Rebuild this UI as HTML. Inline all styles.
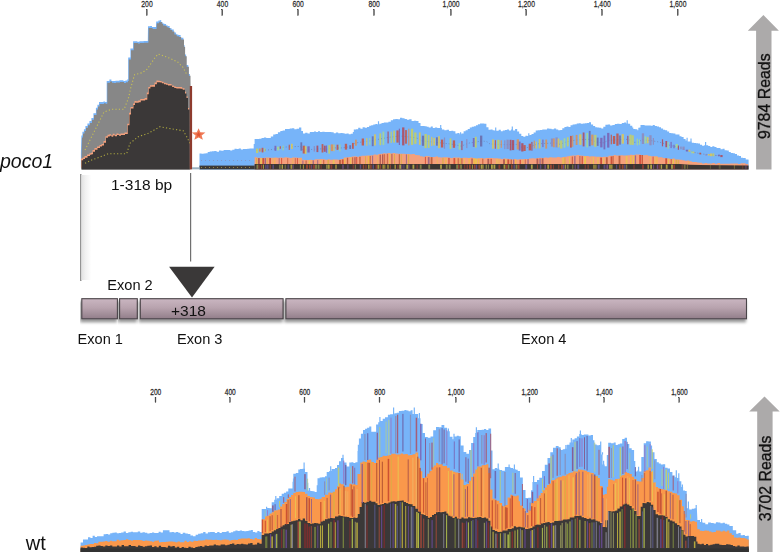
<!DOCTYPE html>
<html><head><meta charset="utf-8"><style>
html,body{margin:0;padding:0;background:#fff;width:780px;height:552px;overflow:hidden;font-family:"Liberation Sans",sans-serif;}
svg{display:block;}
</style></head><body>
<svg width="780" height="552" viewBox="0 0 780 552">
<defs><linearGradient id="ex" x1="0" y1="0" x2="0" y2="1"><stop offset="0" stop-color="#cab6c1"/><stop offset="0.45" stop-color="#b8a3ae"/><stop offset="1" stop-color="#927e8a"/></linearGradient><filter id="soft" x="0" y="0" width="100%" height="100%"><feGaussianBlur stdDeviation="0.45"/></filter><linearGradient id="shg" x1="0" y1="0" x2="1" y2="0"><stop offset="0" stop-color="#e2e2e2"/><stop offset="0.4" stop-color="#f1f1f1"/><stop offset="1" stop-color="#ffffff"/></linearGradient><filter id="sh" x="-5%" y="-30%" width="110%" height="180%"><feGaussianBlur in="SourceAlpha" stdDeviation="1.6"/><feOffset dx="-1" dy="2.5"/><feComponentTransfer><feFuncA type="linear" slope="0.42"/></feComponentTransfer><feMerge><feMergeNode/><feMergeNode in="SourceGraphic"/></feMerge></filter></defs>
<rect width="780" height="552" fill="#fff"/>
<g font-family="Liberation Sans, sans-serif" fill="#2a2a2a" stroke="#2a2a2a" stroke-width="0.25" text-anchor="middle">
<text x="147.10000000000002" y="7.1" font-size="9.6" transform="translate(146.8 0) scale(0.71 1) translate(-146.8 0)">200</text>
<rect x="146.25" y="9.4" width="1.1" height="6.2" fill="#555"/>
<text x="222.60000000000002" y="7.1" font-size="9.6" transform="translate(222.3 0) scale(0.71 1) translate(-222.3 0)">400</text>
<rect x="221.75" y="9.4" width="1.1" height="6.2" fill="#555"/>
<text x="298.3" y="7.1" font-size="9.6" transform="translate(298.0 0) scale(0.71 1) translate(-298.0 0)">600</text>
<rect x="297.45" y="9.4" width="1.1" height="6.2" fill="#555"/>
<text x="374.3" y="7.1" font-size="9.6" transform="translate(374.0 0) scale(0.71 1) translate(-374.0 0)">800</text>
<rect x="373.45" y="9.4" width="1.1" height="6.2" fill="#555"/>
<text x="451.2" y="7.1" font-size="9.6" transform="translate(450.9 0) scale(0.71 1) translate(-450.9 0)">1,000</text>
<rect x="450.34999999999997" y="9.4" width="1.1" height="6.2" fill="#555"/>
<text x="526.5" y="7.1" font-size="9.6" transform="translate(526.2 0) scale(0.71 1) translate(-526.2 0)">1,200</text>
<rect x="525.6500000000001" y="9.4" width="1.1" height="6.2" fill="#555"/>
<text x="602.3" y="7.1" font-size="9.6" transform="translate(602.0 0) scale(0.71 1) translate(-602.0 0)">1,400</text>
<rect x="601.45" y="9.4" width="1.1" height="6.2" fill="#555"/>
<text x="678.0" y="7.1" font-size="9.6" transform="translate(677.7 0) scale(0.71 1) translate(-677.7 0)">1,600</text>
<rect x="677.1500000000001" y="9.4" width="1.1" height="6.2" fill="#555"/>
<text x="155.8" y="394.6" font-size="8.7" transform="translate(155.5 0) scale(0.76 1) translate(-155.5 0)">200</text>
<rect x="155.0" y="397.5" width="1" height="5" fill="#555"/>
<text x="230.3" y="394.6" font-size="8.7" transform="translate(230.0 0) scale(0.76 1) translate(-230.0 0)">400</text>
<rect x="229.5" y="397.5" width="1" height="5" fill="#555"/>
<text x="304.8" y="394.6" font-size="8.7" transform="translate(304.5 0) scale(0.76 1) translate(-304.5 0)">600</text>
<rect x="304.0" y="397.5" width="1" height="5" fill="#555"/>
<text x="379.8" y="394.6" font-size="8.7" transform="translate(379.5 0) scale(0.76 1) translate(-379.5 0)">800</text>
<rect x="379.0" y="397.5" width="1" height="5" fill="#555"/>
<text x="456.2" y="394.6" font-size="8.7" transform="translate(455.9 0) scale(0.76 1) translate(-455.9 0)">1,000</text>
<rect x="455.4" y="397.5" width="1" height="5" fill="#555"/>
<text x="529.8" y="394.6" font-size="8.7" transform="translate(529.5 0) scale(0.76 1) translate(-529.5 0)">1,200</text>
<rect x="529.0" y="397.5" width="1" height="5" fill="#555"/>
<text x="604.4" y="394.6" font-size="8.7" transform="translate(604.1 0) scale(0.76 1) translate(-604.1 0)">1,400</text>
<rect x="603.6" y="397.5" width="1" height="5" fill="#555"/>
<text x="679.5" y="394.6" font-size="8.7" transform="translate(679.2 0) scale(0.76 1) translate(-679.2 0)">1,600</text>
<rect x="678.7" y="397.5" width="1" height="5" fill="#555"/>
</g>
<g filter="url(#soft)">
<polygon points="81.5,169.4 81.5,155.0 82.0,137.4 83.0,137.4 83.0,133.6 84.5,133.6 84.5,131.1 86.0,131.1 86.0,127.7 88.0,127.7 88.0,125.3 90.0,125.3 90.0,122.9 92.0,122.9 92.0,119.8 94.0,119.8 94.0,115.0 96.5,115.0 96.5,109.6 98.0,109.6 98.0,106.6 99.6,106.6 99.6,103.9 101.8,103.9 101.8,103.9 104.0,103.9 104.0,103.2 105.7,103.2 105.7,103.7 107.3,103.7 107.3,103.0 107.3,82.8 110.0,82.8 110.0,81.4 112.0,81.4 112.0,82.8 114.0,82.8 114.0,82.9 116.0,82.9 116.0,82.6 118.0,82.6 118.0,82.6 120.0,82.6 120.0,82.1 122.0,82.1 122.0,82.0 124.0,82.0 124.0,82.9 126.0,82.9 126.0,82.3 128.0,82.3 128.0,81.1 128.8,81.1 128.8,80.0 128.8,59.4 131.0,59.4 131.0,50.2 133.7,50.2 133.7,43.1 135.8,43.1 135.8,43.0 137.9,43.0 137.9,43.5 140.0,43.5 140.0,43.0 142.1,43.0 142.1,43.0 144.2,43.0 144.2,42.7 146.3,42.7 146.3,42.8 148.4,42.8 148.4,42.5 148.6,28.1 150.6,28.1 150.6,27.9 152.6,27.9 152.6,28.9 154.6,28.9 154.6,28.9 156.6,28.9 156.6,28.2 156.8,23.3 159.0,23.3 159.0,22.2 160.9,22.2 160.9,21.9 161.8,21.9 161.8,23.8 163.1,23.8 163.1,25.4 164.9,25.4 164.9,25.7 166.7,25.7 166.7,27.3 168.5,27.3 168.5,27.9 170.3,27.9 170.3,30.1 172.2,30.1 172.2,31.4 174.4,31.4 174.4,34.4 176.7,34.4 176.7,36.3 178.9,36.3 178.9,36.9 181.2,36.9 181.2,39.5 184.0,39.5 184.0,46.7 185.1,46.7 185.1,56.3 186.7,56.3 186.7,66.7 188.9,66.7 188.9,75.7 190.5,75.7 190.5,81.3 190.8,100.0 190.4,169.4" fill="#77b4f9" transform="translate(-0.6 -1.8)"/>
<polygon points="81.5,169.4 81.5,155.0 82.0,137.4 83.0,137.4 83.0,133.6 84.5,133.6 84.5,131.1 86.0,131.1 86.0,127.7 88.0,127.7 88.0,125.3 90.0,125.3 90.0,122.9 92.0,122.9 92.0,119.8 94.0,119.8 94.0,115.0 96.5,115.0 96.5,109.6 98.0,109.6 98.0,106.6 99.6,106.6 99.6,103.9 101.8,103.9 101.8,103.9 104.0,103.9 104.0,103.2 105.7,103.2 105.7,103.7 107.3,103.7 107.3,103.0 107.3,82.8 110.0,82.8 110.0,81.4 112.0,81.4 112.0,82.8 114.0,82.8 114.0,82.9 116.0,82.9 116.0,82.6 118.0,82.6 118.0,82.6 120.0,82.6 120.0,82.1 122.0,82.1 122.0,82.0 124.0,82.0 124.0,82.9 126.0,82.9 126.0,82.3 128.0,82.3 128.0,81.1 128.8,81.1 128.8,80.0 128.8,59.4 131.0,59.4 131.0,50.2 133.7,50.2 133.7,43.1 135.8,43.1 135.8,43.0 137.9,43.0 137.9,43.5 140.0,43.5 140.0,43.0 142.1,43.0 142.1,43.0 144.2,43.0 144.2,42.7 146.3,42.7 146.3,42.8 148.4,42.8 148.4,42.5 148.6,28.1 150.6,28.1 150.6,27.9 152.6,27.9 152.6,28.9 154.6,28.9 154.6,28.9 156.6,28.9 156.6,28.2 156.8,23.3 159.0,23.3 159.0,22.2 160.9,22.2 160.9,21.9 161.8,21.9 161.8,23.8 163.1,23.8 163.1,25.4 164.9,25.4 164.9,25.7 166.7,25.7 166.7,27.3 168.5,27.3 168.5,27.9 170.3,27.9 170.3,30.1 172.2,30.1 172.2,31.4 174.4,31.4 174.4,34.4 176.7,34.4 176.7,36.3 178.9,36.3 178.9,36.9 181.2,36.9 181.2,39.5 184.0,39.5 184.0,46.7 185.1,46.7 185.1,56.3 186.7,56.3 186.7,66.7 188.9,66.7 188.9,75.7 190.5,75.7 190.5,81.3 190.8,100.0 190.4,169.4" fill="#878787"/>
<polyline points="85.0,150.0 90.0,140.0 96.0,128.0 104.0,112.0 111.9,109.2 124.2,109.2 128.8,97.0 130.4,89.2 134.6,74.6 141.8,72.8 147.2,69.2 150.8,63.8 154.4,58.5 158.0,54.0 163.4,55.8 170.5,58.5 177.7,62.0 183.0,67.4 187.0,75.0" fill="none" stroke="#d8d044" stroke-width="1.1" stroke-dasharray="1.2 2.2" opacity="0.8"/>
<polygon points="81.5,169.4 81.5,160.2 83.2,160.2 83.2,159.0 85.0,159.0 85.0,157.7 87.5,157.7 87.5,156.0 90.0,156.0 90.0,154.8 91.5,154.8 91.5,154.3 93.0,154.3 93.0,151.7 95.0,151.7 95.0,149.7 97.5,149.7 97.5,148.0 100.0,148.0 100.0,146.6 102.0,146.6 102.0,145.6 104.0,145.6 104.0,142.7 106.0,142.7 106.0,137.8 108.0,137.8 108.0,136.4 109.8,136.4 109.8,135.8 111.5,135.8 111.5,136.8 113.2,136.8 113.2,135.4 115.0,135.4 115.0,136.3 117.0,136.3 117.0,135.1 119.0,135.1 119.0,135.8 121.0,135.8 121.0,135.1 123.0,135.1 123.0,135.0 125.0,135.0 125.0,134.0 127.8,134.0 127.8,125.3 129.5,125.3 129.5,114.4 131.0,114.4 131.0,108.6 133.5,108.6 133.5,105.1 135.0,105.1 135.0,102.7 136.5,102.7 136.5,102.8 138.7,102.8 138.7,102.2 140.8,102.2 140.8,100.6 143.0,100.6 143.0,100.6 145.1,100.6 145.1,99.7 147.3,99.7 147.3,94.2 148.8,94.2 148.8,88.5 150.4,88.5 150.4,86.8 152.7,86.8 152.7,86.7 155.0,86.7 155.0,84.2 156.9,84.2 156.9,82.2 158.8,82.2 158.8,82.3 160.4,82.3 160.4,82.5 162.0,82.5 162.0,83.3 164.0,83.3 164.0,84.3 166.0,84.3 166.0,84.8 168.0,84.8 168.0,85.5 170.0,85.5 170.0,85.6 172.1,85.6 172.1,87.1 174.2,87.1 174.2,88.0 176.3,88.0 176.3,88.5 178.5,88.5 178.5,88.6 180.6,88.6 180.6,88.7 182.7,88.7 182.7,89.8 185.0,89.8 185.0,93.4 186.5,93.4 186.5,97.9 188.0,97.9 188.0,109.5 189.6,109.5 189.6,120.0 189.8,169.4" fill="#f5a07c" transform="translate(-0.5 -1.6)"/>
<polygon points="81.5,169.4 81.5,160.2 83.2,160.2 83.2,159.0 85.0,159.0 85.0,157.7 87.5,157.7 87.5,156.0 90.0,156.0 90.0,154.8 91.5,154.8 91.5,154.3 93.0,154.3 93.0,151.7 95.0,151.7 95.0,149.7 97.5,149.7 97.5,148.0 100.0,148.0 100.0,146.6 102.0,146.6 102.0,145.6 104.0,145.6 104.0,142.7 106.0,142.7 106.0,137.8 108.0,137.8 108.0,136.4 109.8,136.4 109.8,135.8 111.5,135.8 111.5,136.8 113.2,136.8 113.2,135.4 115.0,135.4 115.0,136.3 117.0,136.3 117.0,135.1 119.0,135.1 119.0,135.8 121.0,135.8 121.0,135.1 123.0,135.1 123.0,135.0 125.0,135.0 125.0,134.0 127.8,134.0 127.8,125.3 129.5,125.3 129.5,114.4 131.0,114.4 131.0,108.6 133.5,108.6 133.5,105.1 135.0,105.1 135.0,102.7 136.5,102.7 136.5,102.8 138.7,102.8 138.7,102.2 140.8,102.2 140.8,100.6 143.0,100.6 143.0,100.6 145.1,100.6 145.1,99.7 147.3,99.7 147.3,94.2 148.8,94.2 148.8,88.5 150.4,88.5 150.4,86.8 152.7,86.8 152.7,86.7 155.0,86.7 155.0,84.2 156.9,84.2 156.9,82.2 158.8,82.2 158.8,82.3 160.4,82.3 160.4,82.5 162.0,82.5 162.0,83.3 164.0,83.3 164.0,84.3 166.0,84.3 166.0,84.8 168.0,84.8 168.0,85.5 170.0,85.5 170.0,85.6 172.1,85.6 172.1,87.1 174.2,87.1 174.2,88.0 176.3,88.0 176.3,88.5 178.5,88.5 178.5,88.6 180.6,88.6 180.6,88.7 182.7,88.7 182.7,89.8 185.0,89.8 185.0,93.4 186.5,93.4 186.5,97.9 188.0,97.9 188.0,109.5 189.6,109.5 189.6,120.0 189.8,169.4" fill="#3b3939"/>
<polyline points="85.0,163.3 91.7,160.0 100.0,157.0 108.3,153.7 126.7,153.7 130.0,143.3 138.3,136.7 148.3,133.3 160.0,126.7 168.3,128.3 183.3,130.8 186.7,136.7 190.0,143.3" fill="none" stroke="#c8c040" stroke-width="1.1" stroke-dasharray="1.2 2.2" opacity="0.8"/>
<rect x="189.8" y="86" width="2.3" height="83.4" fill="#8e3a2e"/>
<polygon points="199.5,169.4 199.5,153.4 201.5,153.4 201.5,153.8 203.6,153.8 203.6,153.4 205.6,153.4 205.6,153.3 207.7,153.3 207.7,151.9 209.7,151.9 209.7,151.6 212.0,151.6 212.0,151.2 214.3,151.2 214.3,151.1 216.6,151.1 216.6,151.7 219.0,151.7 219.0,150.5 221.3,150.5 221.3,150.8 223.6,150.8 223.6,150.1 225.9,150.1 225.9,150.0 228.0,150.0 228.0,150.0 230.2,150.0 230.2,150.4 232.3,150.4 232.3,149.8 234.5,149.8 234.5,148.7 236.6,148.7 236.6,148.9 238.7,148.9 238.7,148.5 240.9,148.5 240.9,149.4 243.0,149.4 243.0,149.1 245.1,149.1 245.1,148.9 247.3,148.9 247.3,148.7 249.4,148.7 249.4,148.4 251.6,148.4 251.6,148.5 253.7,148.5 253.7,144.1 254.6,144.1 254.6,139.0 256.9,139.0 256.9,139.0 259.2,139.0 259.2,138.8 261.5,138.8 261.5,138.1 263.9,138.1 263.9,137.6 266.2,137.6 266.2,138.1 268.5,138.1 268.5,138.0 270.8,138.0 270.8,136.5 273.2,136.5 273.2,134.6 275.5,134.6 275.5,133.9 277.9,133.9 277.9,132.3 280.3,132.3 280.3,131.1 282.6,131.1 282.6,130.5 285.0,130.5 285.0,129.0 287.3,129.0 287.3,128.9 289.7,128.9 289.7,128.6 292.0,128.6 292.0,128.2 294.3,128.2 294.3,129.3 296.6,129.3 296.6,128.7 299.0,128.7 299.0,127.4 301.3,127.4 301.3,131.1 303.0,131.1 303.0,133.4 305.2,133.4 305.2,132.8 307.5,132.8 307.5,133.4 309.8,133.4 309.8,132.0 312.0,132.0 312.0,132.1 314.0,132.1 314.0,131.6 316.0,131.6 316.0,132.1 318.0,132.1 318.0,131.3 320.0,131.3 320.0,131.9 322.3,131.9 322.3,131.8 324.6,131.8 324.6,132.0 326.8,132.0 326.8,131.9 329.1,131.9 329.1,132.1 331.4,132.1 331.4,132.2 333.7,132.2 333.7,133.2 335.9,133.2 335.9,132.6 338.2,132.6 338.2,133.3 340.5,133.3 340.5,133.0 342.6,133.0 342.6,133.3 344.6,133.3 344.6,133.7 346.6,133.7 346.6,133.6 348.7,133.6 348.7,134.2 350.8,134.2 350.8,133.8 352.8,133.8 352.8,132.1 353.8,132.1 353.8,129.4 356.0,129.4 356.0,129.2 358.2,129.2 358.2,127.7 360.4,127.7 360.4,128.7 362.6,128.7 362.6,127.2 364.8,127.2 364.8,127.7 367.0,127.7 367.0,126.9 369.2,126.9 369.2,125.8 371.2,125.8 371.2,125.3 373.3,125.3 373.3,124.5 375.4,124.5 375.4,124.1 377.4,124.1 377.4,124.4 377.9,124.4 377.9,121.2 379.1,121.2 379.1,124.4 379.4,124.4 379.4,123.7 381.5,123.7 381.5,122.9 383.8,122.9 383.8,122.4 386.1,122.4 386.1,122.5 388.4,122.5 388.4,121.7 390.8,121.7 390.8,120.3 393.1,120.3 393.1,119.2 395.4,119.2 395.4,119.1 397.7,119.1 397.7,119.2 400.0,119.2 400.0,117.8 402.3,117.8 402.3,118.3 404.6,118.3 404.6,119.0 406.9,119.0 406.9,119.7 409.2,119.7 409.2,119.3 411.6,119.3 411.6,121.0 413.9,121.0 413.9,120.8 416.2,120.8 416.2,121.0 418.5,121.0 418.5,123.0 420.5,123.0 420.5,125.9 422.6,125.9 422.6,126.0 424.6,126.0 424.6,126.2 426.7,126.2 426.7,126.7 428.7,126.7 428.7,127.5 430.8,127.5 430.8,126.6 432.8,126.6 432.8,127.9 434.9,127.9 434.9,127.5 437.2,127.5 437.2,127.9 439.6,127.9 439.6,128.0 440.1,128.0 440.1,124.9 441.3,124.9 441.3,128.0 441.9,128.0 441.9,129.4 444.3,129.4 444.3,130.3 446.6,130.3 446.6,129.8 449.0,129.8 449.0,130.9 451.3,130.9 451.3,130.7 453.3,130.7 453.3,131.2 455.4,131.2 455.4,133.4 457.4,133.4 457.4,133.1 459.5,133.1 459.5,134.2 460.0,134.2 460.0,132.2 461.2,132.2 461.2,134.2 461.5,134.2 461.5,133.4 463.6,133.4 463.6,131.2 465.6,131.2 465.6,130.2 467.7,130.2 467.7,129.0 469.8,129.0 469.8,127.5 471.8,127.5 471.8,126.8 473.9,126.8 473.9,126.3 475.9,126.3 475.9,125.3 477.9,125.3 477.9,124.3 480.0,124.3 480.0,123.6 482.1,123.6 482.1,123.5 484.3,123.5 484.3,123.8 486.4,123.8 486.4,127.2 488.5,127.2 488.5,129.7 490.5,129.7 490.5,129.4 492.6,129.4 492.6,130.2 494.6,130.2 494.6,130.8 495.1,130.8 495.1,127.5 496.3,127.5 496.3,130.8 496.7,130.8 496.7,130.8 498.7,130.8 498.7,129.7 500.8,129.7 500.8,131.2 502.8,131.2 502.8,130.5 504.9,130.5 504.9,130.0 506.9,130.0 506.9,129.5 509.0,129.5 509.0,130.5 511.0,130.5 511.0,129.5 511.7,129.5 511.7,126.5 512.9,126.5 512.9,129.5 513.1,129.5 513.1,130.5 515.1,130.5 515.1,129.0 517.2,129.0 517.2,131.5 519.2,131.5 519.2,133.7 521.3,133.7 521.3,136.0 523.3,136.0 523.3,136.8 525.4,136.8 525.4,135.7 527.4,135.7 527.4,136.1 528.2,136.1 528.2,133.2 529.4,133.2 529.4,136.1 529.5,136.1 529.5,135.0 531.5,135.0 531.5,134.1 533.6,134.1 533.6,132.4 535.7,132.4 535.7,130.5 537.7,130.5 537.7,130.2 540.0,130.2 540.0,130.1 542.3,130.1 542.3,129.6 544.6,129.6 544.6,129.5 547.0,129.5 547.0,128.4 549.3,128.4 549.3,128.8 551.6,128.8 551.6,129.2 553.9,129.2 553.9,128.6 556.2,128.6 556.2,129.5 558.2,129.5 558.2,130.3 560.3,130.3 560.3,130.1 562.3,130.1 562.3,128.3 564.4,128.3 564.4,126.9 566.5,126.9 566.5,126.5 568.5,126.5 568.5,127.1 570.5,127.1 570.5,125.2 572.6,125.2 572.6,124.6 574.7,124.6 574.7,124.3 576.7,124.3 576.7,123.6 578.8,123.6 578.8,123.3 580.8,123.3 580.8,123.7 582.9,123.7 582.9,123.5 584.9,123.5 584.9,123.2 587.0,123.2 587.0,123.1 589.0,123.1 589.0,122.3 591.0,122.3 591.0,124.4 593.1,124.4 593.1,126.1 595.2,126.1 595.2,127.3 597.2,127.3 597.2,127.6 599.2,127.6 599.2,127.8 601.3,127.8 601.3,128.5 603.3,128.5 603.3,126.7 605.4,126.7 605.4,124.7 607.7,124.7 607.7,124.5 610.1,124.5 610.1,125.5 612.4,125.5 612.4,125.0 614.8,125.0 614.8,123.9 617.1,123.9 617.1,123.8 619.5,123.8 619.5,124.0 621.8,124.0 621.8,122.9 624.1,122.9 624.1,122.5 626.1,122.5 626.1,123.5 626.6,123.5 626.6,120.2 627.8,120.2 627.8,123.5 628.2,123.5 628.2,123.8 630.2,123.8 630.2,125.7 632.3,125.7 632.3,127.5 633.3,127.5 633.3,128.9 635.4,128.9 635.4,129.3 637.4,129.3 637.4,130.3 638.3,130.3 638.3,127.8 639.5,127.8 639.5,130.3 639.5,130.3 639.5,127.5 640.5,127.5 640.5,125.1 642.5,125.1 642.5,125.1 644.6,125.1 644.6,125.5 646.6,125.5 646.6,125.6 648.7,125.6 648.7,125.4 650.8,125.4 650.8,125.7 652.8,125.7 652.8,125.1 654.8,125.1 654.8,126.1 656.9,126.1 656.9,126.6 659.0,126.6 659.0,127.3 661.0,127.3 661.0,128.4 663.1,128.4 663.1,129.7 665.1,129.7 665.1,130.3 667.2,130.3 667.2,131.6 669.2,131.6 669.2,132.9 671.3,132.9 671.3,133.2 673.3,133.2 673.3,133.4 675.4,133.4 675.4,134.5 677.5,134.5 677.5,134.5 679.5,134.5 679.5,136.3 681.5,136.3 681.5,137.1 683.6,137.1 683.6,138.9 685.6,138.9 685.6,140.4 686.5,140.4 686.5,137.8 687.7,137.8 687.7,140.4 687.7,140.4 687.7,141.4 689.7,141.4 689.7,141.6 690.4,141.6 690.4,138.5 691.6,138.5 691.6,141.6 691.8,141.6 691.8,142.8 693.9,142.8 693.9,142.9 695.9,142.9 695.9,143.2 698.0,143.2 698.0,143.6 700.0,143.6 700.0,144.8 702.1,144.8 702.1,145.7 704.1,145.7 704.1,145.3 705.0,145.3 705.0,142.1 706.2,142.1 706.2,145.3 706.2,145.3 706.2,145.3 708.2,145.3 708.2,145.9 710.3,145.9 710.3,147.0 712.3,147.0 712.3,146.2 714.4,146.2 714.4,147.0 716.5,147.0 716.5,147.9 718.5,147.9 718.5,147.9 720.5,147.9 720.5,149.3 722.6,149.3 722.6,148.8 724.6,148.8 724.6,150.3 726.7,150.3 726.7,150.6 728.8,150.6 728.8,151.9 730.8,151.9 730.8,153.0 732.9,153.0 732.9,153.2 734.9,153.2 734.9,153.9 737.0,153.9 737.0,155.4 739.0,155.4 739.0,156.1 741.0,156.1 741.0,157.8 743.1,157.8 743.1,158.1 745.7,158.1 745.7,159.6 748.2,159.6 748.2,159.5 748.6,159.8 748.6,169.4" fill="#77b4f9"/>
<polygon points="254.6,157.3 257.1,157.3 257.1,157.8 259.6,157.8 259.6,157.7 262.1,157.7 262.1,158.0 264.6,158.0 264.6,157.4 267.1,157.4 267.1,157.4 269.6,157.4 269.6,157.8 272.1,157.8 272.1,157.7 274.6,157.7 274.6,157.4 277.1,157.4 277.1,157.7 279.5,157.7 279.5,157.5 282.0,157.5 282.0,157.8 284.5,157.8 284.5,157.3 287.0,157.3 287.0,157.4 289.5,157.4 289.5,157.9 292.0,157.9 292.0,157.5 294.5,157.5 294.5,157.4 297.0,157.4 297.0,157.8 299.5,157.8 299.5,157.7 302.0,157.7 302.0,157.6 302.0,159.7 304.5,159.7 304.5,160.0 306.9,160.0 306.9,160.1 309.4,160.1 309.4,159.7 312.0,159.7 312.0,159.9 314.7,159.9 314.7,159.3 317.4,159.3 317.4,159.3 320.0,159.3 320.0,159.1 322.6,159.1 322.6,159.2 325.1,159.2 325.1,159.8 327.7,159.8 327.7,159.3 330.2,159.3 330.2,159.8 332.8,159.8 332.8,159.4 335.4,159.4 335.4,159.5 337.9,159.5 337.9,159.7 340.5,159.7 340.5,159.0 343.6,159.0 343.6,157.5 346.7,157.5 346.7,157.3 349.2,157.3 349.2,157.1 351.6,157.1 351.6,156.5 354.1,156.5 354.1,156.3 356.5,156.3 356.5,156.7 359.0,156.7 359.0,156.2 361.5,156.2 361.5,155.8 363.9,155.8 363.9,155.8 366.4,155.8 366.4,155.4 368.8,155.4 368.8,155.6 371.3,155.6 371.3,155.2 373.6,155.2 373.6,154.5 376.0,154.5 376.0,154.8 378.3,154.8 378.3,153.9 380.7,153.9 380.7,153.8 383.0,153.8 383.0,153.3 385.4,153.3 385.4,153.5 387.7,153.5 387.7,152.9 390.2,152.9 390.2,153.4 392.6,153.4 392.6,153.1 395.1,153.1 395.1,153.5 397.5,153.5 397.5,153.8 400.0,153.8 400.0,153.8 402.5,153.8 402.5,153.8 404.9,153.8 404.9,153.9 407.4,153.9 407.4,154.0 409.8,154.0 409.8,154.2 412.3,154.2 412.3,154.1 414.9,154.1 414.9,155.0 417.5,155.0 417.5,155.3 420.0,155.3 420.0,156.3 422.6,156.3 422.6,156.7 425.2,156.7 425.2,156.1 427.7,156.1 427.7,156.3 430.2,156.3 430.2,156.9 432.8,156.9 432.8,156.9 435.4,156.9 435.4,156.6 437.9,156.6 437.9,157.3 440.4,157.3 440.4,157.6 443.0,157.6 443.0,157.3 445.5,157.3 445.5,157.3 447.9,157.3 447.9,157.5 450.4,157.5 450.4,157.9 452.8,157.9 452.8,157.4 455.3,157.4 455.3,157.5 457.7,157.5 457.7,157.5 460.2,157.5 460.2,157.9 462.6,157.9 462.6,157.8 465.1,157.8 465.1,157.7 467.5,157.7 467.5,157.9 470.0,157.9 470.0,157.6 472.6,157.6 472.6,157.9 475.1,157.9 475.1,158.5 477.7,158.5 477.7,158.2 480.2,158.2 480.2,158.0 482.8,158.0 482.8,158.6 485.4,158.6 485.4,158.1 487.9,158.1 487.9,158.1 490.5,158.1 490.5,158.0 493.1,158.0 493.1,158.2 495.6,158.2 495.6,158.3 498.2,158.3 498.2,158.4 500.8,158.4 500.8,159.0 503.3,159.0 503.3,158.6 505.9,158.6 505.9,158.7 508.5,158.7 508.5,159.1 511.0,159.1 511.0,159.4 513.6,159.4 513.6,159.0 516.2,159.0 516.2,159.5 518.7,159.5 518.7,159.2 521.3,159.2 521.3,159.3 523.8,159.3 523.8,159.1 526.4,159.1 526.4,159.1 529.0,159.1 529.0,158.6 531.5,158.6 531.5,158.2 534.1,158.2 534.1,158.4 536.6,158.4 536.6,157.9 539.2,157.9 539.2,157.8 541.8,157.8 541.8,158.1 544.3,158.1 544.3,157.6 546.9,157.6 546.9,157.7 549.4,157.7 549.4,157.2 552.0,157.2 552.0,157.6 554.6,157.6 554.6,157.4 557.1,157.4 557.1,157.1 559.7,157.1 559.7,157.6 562.3,157.6 562.3,157.1 564.7,157.1 564.7,156.7 567.1,156.7 567.1,156.3 569.5,156.3 569.5,155.8 571.9,155.8 571.9,155.6 574.3,155.6 574.3,155.6 576.7,155.6 576.7,155.1 579.1,155.1 579.1,155.4 581.5,155.4 581.5,155.7 584.0,155.7 584.0,156.0 586.4,156.0 586.4,156.0 588.8,156.0 588.8,156.5 591.2,156.5 591.2,156.3 593.6,156.3 593.6,156.6 596.0,156.6 596.0,156.8 598.5,156.8 598.5,156.7 600.9,156.7 600.9,157.0 603.3,157.0 603.3,156.8 605.9,156.8 605.9,156.7 608.5,156.7 608.5,155.8 611.0,155.8 611.0,155.7 613.6,155.7 613.6,155.1 615.9,155.1 615.9,155.4 618.3,155.4 618.3,155.4 620.6,155.4 620.6,155.2 623.0,155.2 623.0,155.6 625.3,155.6 625.3,155.4 627.7,155.4 627.7,155.3 630.0,155.3 630.0,154.8 632.6,154.8 632.6,154.9 635.2,154.9 635.2,154.6 637.9,154.6 637.9,154.5 640.5,154.5 640.5,154.9 643.0,154.9 643.0,155.2 645.4,155.2 645.4,154.9 647.9,154.9 647.9,155.7 650.3,155.7 650.3,156.3 652.8,156.3 652.8,156.3 655.3,156.3 655.3,156.3 657.7,156.3 657.7,157.2 660.2,157.2 660.2,157.2 662.6,157.2 662.6,158.0 665.1,158.0 665.1,158.3 667.6,158.3 667.6,158.6 670.0,158.6 670.0,159.0 672.5,159.0 672.5,158.6 674.9,158.6 674.9,159.6 677.4,159.6 677.4,159.5 679.8,159.5 679.8,159.7 682.2,159.7 682.2,160.2 684.6,160.2 684.6,160.7 687.0,160.7 687.0,160.6 689.4,160.6 689.4,161.3 691.8,161.3 691.8,161.9 694.3,161.9 694.3,162.1 696.9,162.1 696.9,162.6 699.5,162.6 699.5,162.8 702.0,162.8 702.0,163.6 704.6,163.6 704.6,163.0 707.1,163.0 707.1,163.4 709.7,163.4 709.7,163.4 712.3,163.4 712.3,162.9 714.8,162.9 714.8,163.7 717.4,163.7 717.4,163.1 720.0,163.1 720.0,163.8 722.5,163.8 722.5,163.7 725.1,163.7 725.1,163.7 727.7,163.7 727.7,163.7 730.2,163.7 730.2,163.4 732.8,163.4 732.8,163.4 735.4,163.4 735.4,163.4 737.9,163.4 737.9,163.9 740.5,163.9 740.5,163.2 743.1,163.2 743.1,163.3 745.6,163.3 745.6,164.0 748.2,164.0 748.2,163.6 748.2,169.4 254.6,169.4" fill="#f5a07c"/>
<rect x="199.5" y="165.6" width="55.2" height="3.8" fill="#3b3939"/>
<polygon points="254.6,164 680,164 690,164.8 748.6,165.4 748.6,169.4 254.6,169.4" fill="#3e3533"/>
<rect x="192" y="167.3" width="7.5" height="2" fill="#9ab0c0"/>
<polyline points="256.0,150.7 259.0,150.5 261.6,150.3 264.2,150.2 266.3,150.0 268.9,149.9 272.2,149.5 274.5,149.0 277.0,148.6 279.7,148.0 282.5,147.5 285.9,147.0 288.7,146.9 291.0,146.8 294.1,146.6 297.7,146.5 300.4,146.4 302.7,149.4 304.7,149.8 307.4,149.7 310.3,149.5 313.7,149.3 316.5,149.1 319.5,148.9 321.6,148.9 323.9,149.0 325.9,149.1 328.3,149.2 330.8,147.7 333.4,147.8 336.6,147.9 339.3,148.0 342.0,147.9 344.8,147.4 346.9,147.1 349.3,147.1 352.0,145.8 355.0,143.0 358.1,142.6 361.7,142.0 364.0,141.7 366.2,141.4 369.3,141.0 371.8,140.6 374.1,140.1 376.7,139.6 379.4,139.1 382.5,138.5 384.9,138.1 387.5,137.5 390.6,137.1 393.2,136.8 396.4,136.4 398.8,136.1 402.1,136.2 405.1,136.5 408.2,136.9 410.9,137.1 414.2,137.6 416.6,138.1 418.9,138.9 421.9,140.9 424.5,141.2 427.8,141.6 431.2,141.9 433.3,142.1 436.0,142.4 438.1,142.6 440.9,142.9 443.9,143.3 447.1,143.6 449.6,143.9 452.8,144.4 456.2,145.1 458.6,145.6 461.3,146.2 464.0,145.0 466.2,144.0 469.5,143.0 472.8,142.5 474.9,142.1 476.9,141.8 480.0,141.3 483.4,141.1 487.0,141.7 490.0,144.0 492.1,144.1 494.8,144.2 497.2,144.4 500.7,144.6 504.2,144.6 506.5,144.6 509.7,144.6 511.9,144.5 514.0,144.5 516.7,144.4 518.8,145.4 521.2,146.9 523.4,148.0 526.5,147.6 528.7,147.3 531.3,146.4 533.7,145.4 535.8,144.6 538.7,143.7 542.3,143.6 545.3,143.4 548.0,143.3 550.9,143.1 553.0,143.0 555.5,143.0 557.6,143.5 560.1,144.4 563.6,142.8 566.9,141.8 570.0,141.2 572.1,140.8 575.7,140.1 579.2,139.8 582.7,139.6 586.3,139.4 588.8,139.3 591.2,140.1 594.2,141.2 596.8,142.1 600.2,142.6 603.5,142.8 607.1,140.9 610.7,140.4 612.9,140.0 616.3,139.7 619.1,139.6 621.6,139.4 624.9,139.1 627.2,139.5 629.3,139.9 631.5,140.2 633.9,142.3 636.7,142.2 638.9,142.1 641.8,139.6 644.5,139.9 646.8,140.2 649.3,140.5 652.8,140.9 656.0,141.5 658.3,141.9 661.9,142.8 665.4,143.9 667.5,144.5 670.5,145.5 673.4,146.2 675.6,146.7 677.8,147.3 680.4,147.9 682.4,148.3 685.9,150.4 688.5,151.0 691.1,151.6 693.1,152.1 696.4,152.9 699.3,153.5 702.5,154.0 705.3,154.3 707.9,154.5 710.0,154.7 712.5,155.0 715.4,155.4 718.1,155.7 720.3,156.0" fill="none" stroke="#6a5a7a" stroke-width="0.8" stroke-dasharray="1 2" opacity="0.6"/>
<line x1="201" y1="160.5" x2="253" y2="160.5" stroke="#8a8ab0" stroke-width="0.9" stroke-dasharray="1 3" opacity="0.7"/>
<line x1="201" y1="167.5" x2="253" y2="167.5" stroke="#c8b050" stroke-width="0.9" stroke-dasharray="1 3" opacity="0.7"/>
<rect x="256.0" y="148.6" width="2.3" height="4.5" fill="#c8d060" opacity="0.85"/>
<rect x="259.0" y="148.5" width="1.8" height="3.2" fill="#e09050" opacity="0.85"/>
<rect x="261.6" y="147.8" width="1.8" height="4.6" fill="#c85040" opacity="0.85"/>
<rect x="264.2" y="148.4" width="1.2" height="3.3" fill="#c8d060" opacity="0.85"/>
<rect x="274.5" y="145.8" width="1.8" height="5.0" fill="#7a5fb0" opacity="0.85"/>
<rect x="277.0" y="146.7" width="2.3" height="3.7" fill="#a8d890" opacity="0.85"/>
<rect x="279.7" y="146.2" width="1.2" height="2.5" fill="#c85040" opacity="0.85"/>
<rect x="282.5" y="145.6" width="1.2" height="4.8" fill="#a8d890" opacity="0.85"/>
<rect x="288.7" y="144.7" width="1.2" height="5.2" fill="#c85040" opacity="0.85"/>
<rect x="291.0" y="143.8" width="1.8" height="5.1" fill="#e0c850" opacity="0.85"/>
<rect x="300.4" y="142.3" width="1.8" height="8.4" fill="#6a6aa8" opacity="0.85"/>
<rect x="302.7" y="145.7" width="2.3" height="7.8" fill="#c85040" opacity="0.85"/>
<rect x="304.7" y="146.2" width="1.8" height="7.7" fill="#e0c850" opacity="0.85"/>
<rect x="307.4" y="146.3" width="2.3" height="6.2" fill="#7a5fb0" opacity="0.85"/>
<rect x="313.7" y="146.1" width="1.2" height="5.5" fill="#9088b8" opacity="0.85"/>
<rect x="316.5" y="145.6" width="1.8" height="6.5" fill="#b04858" opacity="0.85"/>
<rect x="321.6" y="144.1" width="1.8" height="8.4" fill="#c85040" opacity="0.85"/>
<rect x="323.9" y="145.7" width="1.8" height="6.1" fill="#b04858" opacity="0.85"/>
<rect x="325.9" y="145.5" width="1.2" height="7.2" fill="#7a5fb0" opacity="0.85"/>
<rect x="328.3" y="145.1" width="1.8" height="8.6" fill="#c8d060" opacity="0.85"/>
<rect x="330.8" y="144.4" width="2.3" height="6.7" fill="#e09050" opacity="0.85"/>
<rect x="333.4" y="144.5" width="1.2" height="6.7" fill="#e0c850" opacity="0.85"/>
<rect x="336.6" y="144.7" width="1.8" height="5.2" fill="#c85040" opacity="0.85"/>
<rect x="339.3" y="144.5" width="1.2" height="7.0" fill="#a8d890" opacity="0.85"/>
<rect x="344.8" y="143.8" width="2.3" height="5.8" fill="#c85040" opacity="0.85"/>
<rect x="349.3" y="145.2" width="1.8" height="3.8" fill="#6a6aa8" opacity="0.85"/>
<rect x="352.0" y="142.9" width="1.8" height="5.9" fill="#c85040" opacity="0.85"/>
<rect x="355.0" y="139.7" width="1.8" height="6.0" fill="#e09050" opacity="0.85"/>
<rect x="361.7" y="138.5" width="2.3" height="7.0" fill="#c85040" opacity="0.85"/>
<rect x="366.2" y="138.0" width="1.2" height="7.8" fill="#e0c850" opacity="0.85"/>
<rect x="369.3" y="137.9" width="1.2" height="7.0" fill="#a8d890" opacity="0.85"/>
<rect x="371.8" y="136.3" width="1.8" height="9.9" fill="#6a6aa8" opacity="0.85"/>
<rect x="374.1" y="134.3" width="1.8" height="11.2" fill="#e0c850" opacity="0.85"/>
<rect x="379.4" y="133.4" width="1.8" height="11.8" fill="#c8d060" opacity="0.85"/>
<rect x="382.5" y="131.6" width="1.8" height="13.3" fill="#a8d890" opacity="0.85"/>
<rect x="387.5" y="131.5" width="1.2" height="11.9" fill="#b04858" opacity="0.85"/>
<rect x="390.6" y="131.6" width="1.2" height="11.4" fill="#c8d060" opacity="0.85"/>
<rect x="393.2" y="130.6" width="1.8" height="12.0" fill="#c8d060" opacity="0.85"/>
<rect x="396.4" y="130.4" width="2.3" height="12.2" fill="#c85040" opacity="0.85"/>
<rect x="398.8" y="128.7" width="1.2" height="16.3" fill="#7a5fb0" opacity="0.85"/>
<rect x="402.1" y="127.4" width="2.3" height="18.0" fill="#b04858" opacity="0.85"/>
<rect x="405.1" y="130.1" width="1.8" height="13.6" fill="#c85040" opacity="0.85"/>
<rect x="408.2" y="128.7" width="1.2" height="16.7" fill="#e09050" opacity="0.85"/>
<rect x="410.9" y="128.7" width="2.3" height="16.2" fill="#c8d060" opacity="0.85"/>
<rect x="414.2" y="132.5" width="2.3" height="11.4" fill="#c8d060" opacity="0.85"/>
<rect x="418.9" y="132.4" width="1.8" height="12.5" fill="#e0c850" opacity="0.85"/>
<rect x="421.9" y="135.7" width="2.3" height="10.1" fill="#6a6aa8" opacity="0.85"/>
<rect x="424.5" y="134.0" width="2.3" height="14.1" fill="#c8d060" opacity="0.85"/>
<rect x="427.8" y="135.0" width="1.8" height="12.9" fill="#c8d060" opacity="0.85"/>
<rect x="431.2" y="136.8" width="1.2" height="9.2" fill="#e0c850" opacity="0.85"/>
<rect x="433.3" y="137.9" width="1.8" height="7.5" fill="#e0c850" opacity="0.85"/>
<rect x="436.0" y="137.3" width="1.8" height="8.4" fill="#6a6aa8" opacity="0.85"/>
<rect x="438.1" y="136.2" width="1.8" height="12.0" fill="#e0c850" opacity="0.85"/>
<rect x="440.9" y="139.6" width="2.3" height="7.9" fill="#c85040" opacity="0.85"/>
<rect x="443.9" y="137.5" width="1.2" height="11.2" fill="#9088b8" opacity="0.85"/>
<rect x="449.6" y="138.4" width="1.8" height="10.5" fill="#c8d060" opacity="0.85"/>
<rect x="452.8" y="140.4" width="2.3" height="7.4" fill="#c85040" opacity="0.85"/>
<rect x="458.6" y="143.2" width="1.8" height="6.5" fill="#a8d890" opacity="0.85"/>
<rect x="461.3" y="140.9" width="1.2" height="9.2" fill="#b04858" opacity="0.85"/>
<rect x="466.2" y="139.1" width="1.2" height="9.0" fill="#9088b8" opacity="0.85"/>
<rect x="472.8" y="138.0" width="1.8" height="8.9" fill="#7a5fb0" opacity="0.85"/>
<rect x="474.9" y="136.8" width="1.8" height="10.8" fill="#c8d060" opacity="0.85"/>
<rect x="480.0" y="135.6" width="2.3" height="10.9" fill="#6a6aa8" opacity="0.85"/>
<rect x="492.1" y="139.4" width="1.8" height="9.3" fill="#e0c850" opacity="0.85"/>
<rect x="494.8" y="140.2" width="1.2" height="8.5" fill="#c85040" opacity="0.85"/>
<rect x="497.2" y="139.8" width="2.3" height="9.3" fill="#c8d060" opacity="0.85"/>
<rect x="500.7" y="140.3" width="1.2" height="7.5" fill="#e09050" opacity="0.85"/>
<rect x="504.2" y="140.3" width="1.2" height="8.9" fill="#9088b8" opacity="0.85"/>
<rect x="506.5" y="139.7" width="2.3" height="9.4" fill="#9088b8" opacity="0.85"/>
<rect x="509.7" y="139.8" width="1.8" height="10.6" fill="#b04858" opacity="0.85"/>
<rect x="511.9" y="140.1" width="2.3" height="10.0" fill="#b04858" opacity="0.85"/>
<rect x="516.7" y="139.3" width="2.3" height="10.2" fill="#e09050" opacity="0.85"/>
<rect x="518.8" y="141.6" width="1.8" height="9.0" fill="#7a5fb0" opacity="0.85"/>
<rect x="521.2" y="143.2" width="2.3" height="8.3" fill="#b04858" opacity="0.85"/>
<rect x="523.4" y="145.1" width="2.3" height="5.9" fill="#c85040" opacity="0.85"/>
<rect x="528.7" y="143.7" width="2.3" height="6.7" fill="#c85040" opacity="0.85"/>
<rect x="531.3" y="141.9" width="1.2" height="8.8" fill="#b04858" opacity="0.85"/>
<rect x="533.7" y="140.6" width="1.2" height="7.8" fill="#e09050" opacity="0.85"/>
<rect x="535.8" y="141.6" width="1.2" height="6.9" fill="#e0c850" opacity="0.85"/>
<rect x="538.7" y="139.1" width="1.8" height="9.3" fill="#e0c850" opacity="0.85"/>
<rect x="542.3" y="139.6" width="1.2" height="7.5" fill="#7a5fb0" opacity="0.85"/>
<rect x="545.3" y="139.6" width="1.8" height="9.0" fill="#e09050" opacity="0.85"/>
<rect x="550.9" y="138.5" width="2.3" height="8.1" fill="#9088b8" opacity="0.85"/>
<rect x="553.0" y="138.4" width="1.8" height="8.9" fill="#e09050" opacity="0.85"/>
<rect x="555.5" y="137.4" width="2.3" height="10.0" fill="#9088b8" opacity="0.85"/>
<rect x="557.6" y="138.5" width="1.8" height="8.9" fill="#e0c850" opacity="0.85"/>
<rect x="560.1" y="140.4" width="2.3" height="8.2" fill="#c8d060" opacity="0.85"/>
<rect x="563.6" y="138.3" width="1.8" height="9.4" fill="#a8d890" opacity="0.85"/>
<rect x="566.9" y="137.2" width="1.8" height="9.2" fill="#c8d060" opacity="0.85"/>
<rect x="570.0" y="135.9" width="1.8" height="11.7" fill="#c85040" opacity="0.85"/>
<rect x="572.1" y="135.5" width="1.2" height="11.3" fill="#e09050" opacity="0.85"/>
<rect x="575.7" y="134.9" width="1.8" height="10.1" fill="#e09050" opacity="0.85"/>
<rect x="579.2" y="134.3" width="2.3" height="10.6" fill="#e0c850" opacity="0.85"/>
<rect x="582.7" y="132.5" width="1.8" height="13.9" fill="#b04858" opacity="0.85"/>
<rect x="586.3" y="132.9" width="1.8" height="14.5" fill="#a8d890" opacity="0.85"/>
<rect x="588.8" y="130.9" width="1.8" height="15.3" fill="#6a6aa8" opacity="0.85"/>
<rect x="591.2" y="134.6" width="2.3" height="10.7" fill="#e09050" opacity="0.85"/>
<rect x="594.2" y="134.9" width="2.3" height="11.9" fill="#c8d060" opacity="0.85"/>
<rect x="596.8" y="137.6" width="1.8" height="8.3" fill="#6a6aa8" opacity="0.85"/>
<rect x="600.2" y="137.8" width="2.3" height="9.6" fill="#7a5fb0" opacity="0.85"/>
<rect x="603.5" y="135.6" width="1.8" height="13.8" fill="#7a5fb0" opacity="0.85"/>
<rect x="607.1" y="132.9" width="2.3" height="14.7" fill="#7a5fb0" opacity="0.85"/>
<rect x="610.7" y="134.7" width="1.2" height="9.6" fill="#c85040" opacity="0.85"/>
<rect x="612.9" y="136.0" width="2.3" height="7.9" fill="#c85040" opacity="0.85"/>
<rect x="616.3" y="133.5" width="2.3" height="12.2" fill="#c85040" opacity="0.85"/>
<rect x="619.1" y="135.5" width="1.8" height="9.1" fill="#6a6aa8" opacity="0.85"/>
<rect x="621.6" y="134.1" width="2.3" height="9.6" fill="#e0c850" opacity="0.85"/>
<rect x="627.2" y="135.8" width="1.2" height="8.5" fill="#b04858" opacity="0.85"/>
<rect x="629.3" y="134.6" width="2.3" height="10.2" fill="#c8d060" opacity="0.85"/>
<rect x="631.5" y="135.3" width="2.3" height="9.6" fill="#c8d060" opacity="0.85"/>
<rect x="636.7" y="138.6" width="1.2" height="6.8" fill="#a8d890" opacity="0.85"/>
<rect x="638.9" y="139.4" width="1.2" height="5.4" fill="#a8d890" opacity="0.85"/>
<rect x="641.8" y="133.3" width="2.3" height="10.7" fill="#9088b8" opacity="0.85"/>
<rect x="644.5" y="136.3" width="1.8" height="7.2" fill="#a8d890" opacity="0.85"/>
<rect x="646.8" y="137.2" width="1.8" height="6.1" fill="#e0c850" opacity="0.85"/>
<rect x="649.3" y="135.2" width="2.3" height="10.1" fill="#9088b8" opacity="0.85"/>
<rect x="652.8" y="138.0" width="1.2" height="6.8" fill="#9088b8" opacity="0.85"/>
<rect x="661.9" y="139.3" width="1.2" height="7.0" fill="#b04858" opacity="0.85"/>
<rect x="665.4" y="141.0" width="1.8" height="6.2" fill="#b04858" opacity="0.85"/>
<rect x="667.5" y="142.0" width="1.2" height="6.8" fill="#a8d890" opacity="0.85"/>
<rect x="670.5" y="141.9" width="1.2" height="6.2" fill="#7a5fb0" opacity="0.85"/>
<rect x="673.4" y="144.8" width="1.2" height="3.5" fill="#7a5fb0" opacity="0.85"/>
<rect x="675.6" y="144.0" width="2.3" height="3.8" fill="#a8d890" opacity="0.85"/>
<rect x="677.8" y="145.5" width="1.2" height="4.3" fill="#b04858" opacity="0.85"/>
<rect x="680.4" y="146.4" width="1.2" height="3.0" fill="#9088b8" opacity="0.85"/>
<rect x="682.4" y="146.6" width="2.3" height="3.4" fill="#9088b8" opacity="0.85"/>
<rect x="685.9" y="149.7" width="2.3" height="1.8" fill="#7a5fb0" opacity="0.85"/>
<rect x="688.5" y="149.7" width="1.8" height="2.1" fill="#e0c850" opacity="0.85"/>
<rect x="691.1" y="151.4" width="2.3" height="1.9" fill="#a8d890" opacity="0.85"/>
<rect x="693.1" y="151.7" width="1.2" height="1.6" fill="#e0c850" opacity="0.85"/>
<rect x="696.4" y="153.0" width="2.3" height="-0.2" fill="#7a5fb0" opacity="0.85"/>
<rect x="699.3" y="152.7" width="1.8" height="1.7" fill="#c85040" opacity="0.85"/>
<rect x="705.3" y="154.2" width="1.8" height="1.4" fill="#9088b8" opacity="0.85"/>
<rect x="707.9" y="154.0" width="1.8" height="1.6" fill="#e0c850" opacity="0.85"/>
<rect x="710.0" y="153.5" width="2.3" height="2.7" fill="#e0c850" opacity="0.85"/>
<rect x="712.5" y="153.4" width="1.8" height="2.9" fill="#c8d060" opacity="0.85"/>
<rect x="715.4" y="155.0" width="2.3" height="0.5" fill="#9088b8" opacity="0.85"/>
<rect x="718.1" y="154.6" width="1.8" height="1.6" fill="#7a5fb0" opacity="0.85"/>
<rect x="720.3" y="155.0" width="2.3" height="2.1" fill="#b04858" opacity="0.85"/>
<rect x="256.0" y="158.1" width="1.3" height="5.9" fill="#d8b040" opacity="0.8"/>
<rect x="256.5" y="164.6" width="1.8" height="4.2" fill="#a0a050" opacity="0.7"/>
<rect x="258.0" y="158.1" width="1.8" height="5.9" fill="#a04a4a" opacity="0.8"/>
<rect x="258.5" y="164.6" width="1.0" height="4.2" fill="#b04030" opacity="0.7"/>
<rect x="260.3" y="158.1" width="1.8" height="5.9" fill="#e8c850" opacity="0.8"/>
<rect x="260.8" y="164.6" width="1.4" height="4.2" fill="#c05030" opacity="0.7"/>
<rect x="262.4" y="158.1" width="1.8" height="5.9" fill="#c0402a" opacity="0.8"/>
<rect x="262.9" y="164.6" width="1.0" height="4.2" fill="#e0d050" opacity="0.7"/>
<rect x="264.7" y="158.1" width="1.3" height="5.9" fill="#8a5a8a" opacity="0.8"/>
<rect x="265.2" y="164.6" width="1.4" height="4.2" fill="#6a5aa0" opacity="0.7"/>
<rect x="266.6" y="158.1" width="1.0" height="5.9" fill="#d8b040" opacity="0.8"/>
<rect x="267.1" y="164.6" width="1.4" height="4.2" fill="#6a5aa0" opacity="0.7"/>
<rect x="269.2" y="158.1" width="1.8" height="5.9" fill="#c0402a" opacity="0.8"/>
<rect x="269.7" y="164.6" width="1.0" height="4.2" fill="#c05030" opacity="0.7"/>
<rect x="272.0" y="158.1" width="1.3" height="5.9" fill="#f0b060" opacity="0.8"/>
<rect x="272.5" y="164.6" width="1.4" height="4.2" fill="#6a5aa0" opacity="0.7"/>
<rect x="274.3" y="158.1" width="1.0" height="5.9" fill="#f0c040" opacity="0.8"/>
<rect x="278.7" y="158.1" width="1.0" height="5.9" fill="#8a5a8a" opacity="0.8"/>
<rect x="279.2" y="164.6" width="1.4" height="4.2" fill="#a0a050" opacity="0.7"/>
<rect x="281.1" y="158.1" width="1.0" height="5.9" fill="#d04030" opacity="0.8"/>
<rect x="281.6" y="164.6" width="1.4" height="4.2" fill="#e0d050" opacity="0.7"/>
<rect x="284.7" y="164.6" width="1.0" height="4.2" fill="#a0a050" opacity="0.7"/>
<rect x="287.2" y="158.1" width="1.0" height="5.9" fill="#c86040" opacity="0.8"/>
<rect x="287.7" y="164.6" width="1.0" height="4.2" fill="#6a5aa0" opacity="0.7"/>
<rect x="290.5" y="164.6" width="1.8" height="4.2" fill="#d8c040" opacity="0.7"/>
<rect x="292.2" y="158.1" width="1.3" height="5.9" fill="#f0b060" opacity="0.8"/>
<rect x="292.7" y="164.6" width="1.0" height="4.2" fill="#8a5aa0" opacity="0.7"/>
<rect x="294.8" y="158.1" width="1.0" height="5.9" fill="#c86040" opacity="0.8"/>
<rect x="296.9" y="158.1" width="1.0" height="5.9" fill="#d04030" opacity="0.8"/>
<rect x="299.4" y="158.1" width="1.8" height="5.9" fill="#f0b060" opacity="0.8"/>
<rect x="299.9" y="164.6" width="1.0" height="4.2" fill="#a0a050" opacity="0.7"/>
<rect x="302.4" y="160.5" width="1.0" height="3.5" fill="#8a5a8a" opacity="0.8"/>
<rect x="302.9" y="164.6" width="1.0" height="4.2" fill="#d8c040" opacity="0.7"/>
<rect x="305.6" y="160.5" width="1.0" height="3.5" fill="#b05030" opacity="0.8"/>
<rect x="306.1" y="164.6" width="1.8" height="4.2" fill="#c05030" opacity="0.7"/>
<rect x="308.6" y="160.5" width="1.3" height="3.5" fill="#e8d040" opacity="0.8"/>
<rect x="309.1" y="164.6" width="1.4" height="4.2" fill="#c05030" opacity="0.7"/>
<rect x="310.7" y="160.4" width="1.8" height="3.6" fill="#f0b060" opacity="0.8"/>
<rect x="311.2" y="164.6" width="1.0" height="4.2" fill="#8a5aa0" opacity="0.7"/>
<rect x="312.6" y="160.3" width="1.3" height="3.7" fill="#8a5a8a" opacity="0.8"/>
<rect x="313.1" y="164.6" width="1.8" height="4.2" fill="#b04030" opacity="0.7"/>
<rect x="315.1" y="164.6" width="1.8" height="4.2" fill="#a0a050" opacity="0.7"/>
<rect x="317.2" y="160.1" width="1.0" height="3.9" fill="#8a5a8a" opacity="0.8"/>
<rect x="317.7" y="164.6" width="1.8" height="4.2" fill="#a0a050" opacity="0.7"/>
<rect x="320.1" y="159.9" width="1.3" height="4.1" fill="#e8c850" opacity="0.8"/>
<rect x="320.6" y="164.6" width="1.0" height="4.2" fill="#b04030" opacity="0.7"/>
<rect x="323.0" y="159.9" width="1.3" height="4.1" fill="#c86040" opacity="0.8"/>
<rect x="326.0" y="164.6" width="1.8" height="4.2" fill="#a0a050" opacity="0.7"/>
<rect x="327.4" y="159.9" width="1.8" height="4.1" fill="#d8b040" opacity="0.8"/>
<rect x="327.9" y="164.6" width="1.8" height="4.2" fill="#d8c040" opacity="0.7"/>
<rect x="330.5" y="164.6" width="1.8" height="4.2" fill="#b04030" opacity="0.7"/>
<rect x="332.8" y="159.9" width="1.8" height="4.1" fill="#e8c850" opacity="0.8"/>
<rect x="335.3" y="164.6" width="1.4" height="4.2" fill="#d8c040" opacity="0.7"/>
<rect x="339.1" y="159.9" width="1.8" height="4.1" fill="#b05030" opacity="0.8"/>
<rect x="341.8" y="159.4" width="1.8" height="4.6" fill="#c0402a" opacity="0.8"/>
<rect x="342.3" y="164.6" width="1.4" height="4.2" fill="#8a5aa0" opacity="0.7"/>
<rect x="344.1" y="158.7" width="1.3" height="5.3" fill="#f0c040" opacity="0.8"/>
<rect x="346.9" y="157.8" width="1.3" height="6.2" fill="#b05030" opacity="0.8"/>
<rect x="347.4" y="164.6" width="1.0" height="4.2" fill="#8a5aa0" opacity="0.7"/>
<rect x="350.0" y="157.5" width="1.3" height="6.5" fill="#e8c850" opacity="0.8"/>
<rect x="352.2" y="157.3" width="1.0" height="6.7" fill="#b05030" opacity="0.8"/>
<rect x="352.7" y="164.6" width="1.0" height="4.2" fill="#b04030" opacity="0.7"/>
<rect x="354.3" y="157.2" width="1.3" height="6.8" fill="#a04a4a" opacity="0.8"/>
<rect x="354.8" y="164.6" width="1.0" height="4.2" fill="#a0a050" opacity="0.7"/>
<rect x="356.2" y="157.0" width="1.0" height="7.0" fill="#d04030" opacity="0.8"/>
<rect x="359.3" y="156.8" width="1.3" height="7.2" fill="#b05030" opacity="0.8"/>
<rect x="359.8" y="164.6" width="1.4" height="4.2" fill="#6a5aa0" opacity="0.7"/>
<rect x="362.8" y="164.6" width="1.4" height="4.2" fill="#c05030" opacity="0.7"/>
<rect x="365.0" y="156.3" width="1.0" height="7.7" fill="#d8b040" opacity="0.8"/>
<rect x="365.5" y="164.6" width="1.0" height="4.2" fill="#c05030" opacity="0.7"/>
<rect x="367.6" y="156.1" width="1.8" height="7.9" fill="#f0c040" opacity="0.8"/>
<rect x="368.1" y="164.6" width="1.4" height="4.2" fill="#d8c040" opacity="0.7"/>
<rect x="369.7" y="155.9" width="1.0" height="8.1" fill="#b05030" opacity="0.8"/>
<rect x="370.2" y="164.6" width="1.4" height="4.2" fill="#c05030" opacity="0.7"/>
<rect x="372.1" y="155.7" width="1.0" height="8.3" fill="#8a5a8a" opacity="0.8"/>
<rect x="372.6" y="164.6" width="1.4" height="4.2" fill="#6a5aa0" opacity="0.7"/>
<rect x="375.6" y="164.6" width="1.8" height="4.2" fill="#b04030" opacity="0.7"/>
<rect x="377.0" y="155.1" width="1.3" height="8.9" fill="#f0b060" opacity="0.8"/>
<rect x="377.5" y="164.6" width="1.8" height="4.2" fill="#d8c040" opacity="0.7"/>
<rect x="379.6" y="154.7" width="1.3" height="9.3" fill="#a04a4a" opacity="0.8"/>
<rect x="380.1" y="164.6" width="1.0" height="4.2" fill="#c05030" opacity="0.7"/>
<rect x="382.0" y="154.4" width="1.3" height="9.6" fill="#a04a4a" opacity="0.8"/>
<rect x="382.5" y="164.6" width="1.4" height="4.2" fill="#d8c040" opacity="0.7"/>
<rect x="383.8" y="154.2" width="1.3" height="9.8" fill="#c86040" opacity="0.8"/>
<rect x="384.3" y="164.6" width="1.0" height="4.2" fill="#d8c040" opacity="0.7"/>
<rect x="386.8" y="153.8" width="1.3" height="10.2" fill="#c86040" opacity="0.8"/>
<rect x="387.3" y="164.6" width="1.4" height="4.2" fill="#d8c040" opacity="0.7"/>
<rect x="389.3" y="153.8" width="1.0" height="10.2" fill="#e8d040" opacity="0.8"/>
<rect x="389.8" y="164.6" width="1.0" height="4.2" fill="#c05030" opacity="0.7"/>
<rect x="391.4" y="153.9" width="1.0" height="10.1" fill="#a04a4a" opacity="0.8"/>
<rect x="394.0" y="154.0" width="1.0" height="10.0" fill="#d8b040" opacity="0.8"/>
<rect x="394.5" y="164.6" width="1.4" height="4.2" fill="#d8c040" opacity="0.7"/>
<rect x="397.4" y="164.6" width="1.0" height="4.2" fill="#b04030" opacity="0.7"/>
<rect x="398.8" y="154.2" width="1.0" height="9.8" fill="#b05030" opacity="0.8"/>
<rect x="399.3" y="164.6" width="1.8" height="4.2" fill="#e0d050" opacity="0.7"/>
<rect x="400.8" y="154.2" width="1.0" height="9.8" fill="#d8b040" opacity="0.8"/>
<rect x="401.3" y="164.6" width="1.0" height="4.2" fill="#8a5aa0" opacity="0.7"/>
<rect x="403.4" y="164.6" width="1.0" height="4.2" fill="#6a5aa0" opacity="0.7"/>
<rect x="405.9" y="154.4" width="1.0" height="9.6" fill="#8a5a8a" opacity="0.8"/>
<rect x="406.4" y="164.6" width="1.8" height="4.2" fill="#e0d050" opacity="0.7"/>
<rect x="407.9" y="154.5" width="1.3" height="9.5" fill="#d8b040" opacity="0.8"/>
<rect x="408.4" y="164.6" width="1.0" height="4.2" fill="#8a5aa0" opacity="0.7"/>
<rect x="412.5" y="164.6" width="1.8" height="4.2" fill="#e0d050" opacity="0.7"/>
<rect x="416.6" y="164.6" width="1.0" height="4.2" fill="#b04030" opacity="0.7"/>
<rect x="419.8" y="164.6" width="1.8" height="4.2" fill="#a0a050" opacity="0.7"/>
<rect x="424.9" y="156.9" width="1.0" height="7.1" fill="#d04030" opacity="0.8"/>
<rect x="427.8" y="157.1" width="1.8" height="6.9" fill="#8a5a8a" opacity="0.8"/>
<rect x="428.3" y="164.6" width="1.8" height="4.2" fill="#a0a050" opacity="0.7"/>
<rect x="430.7" y="157.2" width="1.8" height="6.8" fill="#b05030" opacity="0.8"/>
<rect x="436.7" y="157.5" width="1.3" height="6.5" fill="#f0b060" opacity="0.8"/>
<rect x="440.1" y="164.6" width="1.8" height="4.2" fill="#e0d050" opacity="0.7"/>
<rect x="442.3" y="157.8" width="1.3" height="6.2" fill="#d8b040" opacity="0.8"/>
<rect x="445.3" y="157.9" width="1.3" height="6.1" fill="#f0c040" opacity="0.8"/>
<rect x="445.8" y="164.6" width="1.8" height="4.2" fill="#a0a050" opacity="0.7"/>
<rect x="448.3" y="157.9" width="1.3" height="6.1" fill="#c0402a" opacity="0.8"/>
<rect x="448.8" y="164.6" width="1.8" height="4.2" fill="#a0a050" opacity="0.7"/>
<rect x="453.5" y="158.1" width="1.8" height="5.9" fill="#d04030" opacity="0.8"/>
<rect x="455.7" y="158.1" width="1.3" height="5.9" fill="#f0b060" opacity="0.8"/>
<rect x="456.2" y="164.6" width="1.8" height="4.2" fill="#a0a050" opacity="0.7"/>
<rect x="457.6" y="158.2" width="1.3" height="5.8" fill="#c86040" opacity="0.8"/>
<rect x="458.1" y="164.6" width="1.4" height="4.2" fill="#c05030" opacity="0.7"/>
<rect x="459.6" y="158.2" width="1.3" height="5.8" fill="#d8b040" opacity="0.8"/>
<rect x="460.1" y="164.6" width="1.8" height="4.2" fill="#a0a050" opacity="0.7"/>
<rect x="461.4" y="158.3" width="1.0" height="5.7" fill="#b05030" opacity="0.8"/>
<rect x="463.8" y="158.3" width="1.0" height="5.7" fill="#e8c850" opacity="0.8"/>
<rect x="464.3" y="164.6" width="1.0" height="4.2" fill="#b04030" opacity="0.7"/>
<rect x="466.7" y="164.6" width="1.0" height="4.2" fill="#c05030" opacity="0.7"/>
<rect x="468.5" y="158.5" width="1.3" height="5.5" fill="#f0c040" opacity="0.8"/>
<rect x="469.0" y="164.6" width="1.8" height="4.2" fill="#c05030" opacity="0.7"/>
<rect x="471.4" y="158.5" width="1.3" height="5.5" fill="#a04a4a" opacity="0.8"/>
<rect x="471.9" y="164.6" width="1.0" height="4.2" fill="#d8c040" opacity="0.7"/>
<rect x="473.3" y="158.5" width="1.8" height="5.5" fill="#f0c040" opacity="0.8"/>
<rect x="473.8" y="164.6" width="1.8" height="4.2" fill="#c05030" opacity="0.7"/>
<rect x="475.3" y="158.6" width="1.8" height="5.4" fill="#e8d040" opacity="0.8"/>
<rect x="475.8" y="164.6" width="1.4" height="4.2" fill="#6a5aa0" opacity="0.7"/>
<rect x="478.0" y="158.6" width="1.3" height="5.4" fill="#f0c040" opacity="0.8"/>
<rect x="478.5" y="164.6" width="1.4" height="4.2" fill="#c05030" opacity="0.7"/>
<rect x="480.7" y="164.6" width="1.8" height="4.2" fill="#e0d050" opacity="0.7"/>
<rect x="482.1" y="158.7" width="1.3" height="5.3" fill="#c86040" opacity="0.8"/>
<rect x="482.6" y="164.6" width="1.0" height="4.2" fill="#d8c040" opacity="0.7"/>
<rect x="485.6" y="164.6" width="1.4" height="4.2" fill="#a0a050" opacity="0.7"/>
<rect x="487.4" y="158.8" width="1.8" height="5.2" fill="#a04a4a" opacity="0.8"/>
<rect x="487.9" y="164.6" width="1.0" height="4.2" fill="#a0a050" opacity="0.7"/>
<rect x="490.5" y="158.8" width="1.3" height="5.2" fill="#c0402a" opacity="0.8"/>
<rect x="491.0" y="164.6" width="1.8" height="4.2" fill="#e0d050" opacity="0.7"/>
<rect x="493.5" y="164.6" width="1.8" height="4.2" fill="#e0d050" opacity="0.7"/>
<rect x="496.2" y="159.0" width="1.3" height="5.0" fill="#e8c850" opacity="0.8"/>
<rect x="498.0" y="159.1" width="1.8" height="4.9" fill="#f0b060" opacity="0.8"/>
<rect x="498.5" y="164.6" width="1.8" height="4.2" fill="#b04030" opacity="0.7"/>
<rect x="503.1" y="159.3" width="1.8" height="4.7" fill="#a04a4a" opacity="0.8"/>
<rect x="503.6" y="164.6" width="1.8" height="4.2" fill="#d8c040" opacity="0.7"/>
<rect x="505.4" y="159.3" width="1.0" height="4.7" fill="#e8d040" opacity="0.8"/>
<rect x="505.9" y="164.6" width="1.8" height="4.2" fill="#b04030" opacity="0.7"/>
<rect x="507.4" y="159.4" width="1.8" height="4.6" fill="#c0402a" opacity="0.8"/>
<rect x="507.9" y="164.6" width="1.4" height="4.2" fill="#a0a050" opacity="0.7"/>
<rect x="510.6" y="159.5" width="1.3" height="4.5" fill="#b05030" opacity="0.8"/>
<rect x="511.1" y="164.6" width="1.4" height="4.2" fill="#c05030" opacity="0.7"/>
<rect x="513.0" y="159.6" width="1.3" height="4.4" fill="#8a5a8a" opacity="0.8"/>
<rect x="513.5" y="164.6" width="1.4" height="4.2" fill="#6a5aa0" opacity="0.7"/>
<rect x="515.1" y="159.7" width="1.3" height="4.3" fill="#f0c040" opacity="0.8"/>
<rect x="515.6" y="164.6" width="1.8" height="4.2" fill="#a0a050" opacity="0.7"/>
<rect x="517.7" y="164.6" width="1.8" height="4.2" fill="#c05030" opacity="0.7"/>
<rect x="519.6" y="159.8" width="1.3" height="4.2" fill="#d04030" opacity="0.8"/>
<rect x="521.8" y="159.8" width="1.8" height="4.2" fill="#f0b060" opacity="0.8"/>
<rect x="524.8" y="159.5" width="1.0" height="4.5" fill="#c86040" opacity="0.8"/>
<rect x="525.3" y="164.6" width="1.8" height="4.2" fill="#6a5aa0" opacity="0.7"/>
<rect x="527.4" y="159.2" width="1.3" height="4.8" fill="#8a5a8a" opacity="0.8"/>
<rect x="530.9" y="164.6" width="1.8" height="4.2" fill="#e0d050" opacity="0.7"/>
<rect x="536.5" y="158.6" width="1.8" height="5.4" fill="#a04a4a" opacity="0.8"/>
<rect x="537.0" y="164.6" width="1.0" height="4.2" fill="#b04030" opacity="0.7"/>
<rect x="539.4" y="158.4" width="1.3" height="5.6" fill="#8a5a8a" opacity="0.8"/>
<rect x="539.9" y="164.6" width="1.4" height="4.2" fill="#6a5aa0" opacity="0.7"/>
<rect x="541.7" y="158.3" width="1.8" height="5.7" fill="#a04a4a" opacity="0.8"/>
<rect x="544.5" y="164.6" width="1.4" height="4.2" fill="#8a5aa0" opacity="0.7"/>
<rect x="547.3" y="164.6" width="1.8" height="4.2" fill="#d8c040" opacity="0.7"/>
<rect x="549.5" y="157.9" width="1.0" height="6.1" fill="#f0b060" opacity="0.8"/>
<rect x="550.0" y="164.6" width="1.8" height="4.2" fill="#c05030" opacity="0.7"/>
<rect x="552.9" y="164.6" width="1.0" height="4.2" fill="#b04030" opacity="0.7"/>
<rect x="558.3" y="164.6" width="1.0" height="4.2" fill="#c05030" opacity="0.7"/>
<rect x="561.0" y="164.6" width="1.8" height="4.2" fill="#c05030" opacity="0.7"/>
<rect x="562.4" y="157.8" width="1.3" height="6.2" fill="#e8d040" opacity="0.8"/>
<rect x="562.9" y="164.6" width="1.4" height="4.2" fill="#8a5aa0" opacity="0.7"/>
<rect x="564.3" y="157.5" width="1.3" height="6.5" fill="#d8b040" opacity="0.8"/>
<rect x="564.8" y="164.6" width="1.0" height="4.2" fill="#e0d050" opacity="0.7"/>
<rect x="566.8" y="164.6" width="1.8" height="4.2" fill="#a0a050" opacity="0.7"/>
<rect x="569.1" y="156.8" width="1.0" height="7.2" fill="#e8d040" opacity="0.8"/>
<rect x="571.8" y="156.5" width="1.0" height="7.5" fill="#c0402a" opacity="0.8"/>
<rect x="572.3" y="164.6" width="1.0" height="4.2" fill="#a0a050" opacity="0.7"/>
<rect x="574.2" y="156.1" width="1.3" height="7.9" fill="#8a5a8a" opacity="0.8"/>
<rect x="574.7" y="164.6" width="1.0" height="4.2" fill="#8a5aa0" opacity="0.7"/>
<rect x="577.3" y="164.6" width="1.8" height="4.2" fill="#6a5aa0" opacity="0.7"/>
<rect x="579.4" y="156.0" width="1.0" height="8.0" fill="#a04a4a" opacity="0.8"/>
<rect x="581.6" y="156.2" width="1.3" height="7.8" fill="#d04030" opacity="0.8"/>
<rect x="584.2" y="156.4" width="1.8" height="7.6" fill="#e8d040" opacity="0.8"/>
<rect x="584.7" y="164.6" width="1.0" height="4.2" fill="#b04030" opacity="0.7"/>
<rect x="587.6" y="164.6" width="1.0" height="4.2" fill="#c05030" opacity="0.7"/>
<rect x="589.8" y="156.8" width="1.3" height="7.2" fill="#f0b060" opacity="0.8"/>
<rect x="592.8" y="157.0" width="1.3" height="7.0" fill="#e8c850" opacity="0.8"/>
<rect x="593.3" y="164.6" width="1.4" height="4.2" fill="#d8c040" opacity="0.7"/>
<rect x="595.4" y="164.6" width="1.0" height="4.2" fill="#e0d050" opacity="0.7"/>
<rect x="597.3" y="157.3" width="1.3" height="6.7" fill="#e8c850" opacity="0.8"/>
<rect x="597.8" y="164.6" width="1.8" height="4.2" fill="#6a5aa0" opacity="0.7"/>
<rect x="600.2" y="157.6" width="1.8" height="6.4" fill="#c0402a" opacity="0.8"/>
<rect x="603.1" y="157.8" width="1.3" height="6.2" fill="#e8c850" opacity="0.8"/>
<rect x="603.6" y="164.6" width="1.8" height="4.2" fill="#6a5aa0" opacity="0.7"/>
<rect x="605.9" y="157.3" width="1.8" height="6.7" fill="#b05030" opacity="0.8"/>
<rect x="606.4" y="164.6" width="1.8" height="4.2" fill="#8a5aa0" opacity="0.7"/>
<rect x="609.1" y="164.6" width="1.8" height="4.2" fill="#d8c040" opacity="0.7"/>
<rect x="610.6" y="156.4" width="1.8" height="7.6" fill="#c0402a" opacity="0.8"/>
<rect x="611.1" y="164.6" width="1.4" height="4.2" fill="#d8c040" opacity="0.7"/>
<rect x="612.5" y="156.0" width="1.3" height="8.0" fill="#c86040" opacity="0.8"/>
<rect x="616.1" y="164.6" width="1.0" height="4.2" fill="#6a5aa0" opacity="0.7"/>
<rect x="618.6" y="155.8" width="1.8" height="8.2" fill="#b05030" opacity="0.8"/>
<rect x="619.1" y="164.6" width="1.4" height="4.2" fill="#c05030" opacity="0.7"/>
<rect x="621.8" y="164.6" width="1.8" height="4.2" fill="#c05030" opacity="0.7"/>
<rect x="624.2" y="164.6" width="1.4" height="4.2" fill="#6a5aa0" opacity="0.7"/>
<rect x="625.7" y="155.8" width="1.8" height="8.2" fill="#e8c850" opacity="0.8"/>
<rect x="626.2" y="164.6" width="1.0" height="4.2" fill="#a0a050" opacity="0.7"/>
<rect x="630.0" y="155.8" width="1.8" height="8.2" fill="#f0c040" opacity="0.8"/>
<rect x="633.0" y="155.5" width="1.3" height="8.5" fill="#e8d040" opacity="0.8"/>
<rect x="633.5" y="164.6" width="1.0" height="4.2" fill="#b04030" opacity="0.7"/>
<rect x="634.8" y="155.4" width="1.3" height="8.6" fill="#8a5a8a" opacity="0.8"/>
<rect x="639.2" y="155.0" width="1.8" height="9.0" fill="#d04030" opacity="0.8"/>
<rect x="641.6" y="155.0" width="1.3" height="9.0" fill="#c0402a" opacity="0.8"/>
<rect x="642.1" y="164.6" width="1.8" height="4.2" fill="#b04030" opacity="0.7"/>
<rect x="647.5" y="164.6" width="1.4" height="4.2" fill="#d8c040" opacity="0.7"/>
<rect x="649.7" y="156.2" width="1.0" height="7.8" fill="#e8c850" opacity="0.8"/>
<rect x="650.2" y="164.6" width="1.8" height="4.2" fill="#e0d050" opacity="0.7"/>
<rect x="652.6" y="156.6" width="1.0" height="7.4" fill="#d04030" opacity="0.8"/>
<rect x="653.1" y="164.6" width="1.0" height="4.2" fill="#8a5aa0" opacity="0.7"/>
<rect x="654.5" y="156.8" width="1.0" height="7.2" fill="#e8c850" opacity="0.8"/>
<rect x="656.3" y="157.1" width="1.3" height="6.9" fill="#f0c040" opacity="0.8"/>
<rect x="656.8" y="164.6" width="1.4" height="4.2" fill="#8a5aa0" opacity="0.7"/>
<rect x="658.7" y="164.6" width="1.0" height="4.2" fill="#b04030" opacity="0.7"/>
<rect x="660.7" y="164.6" width="1.4" height="4.2" fill="#e0d050" opacity="0.7"/>
<rect x="665.3" y="158.3" width="1.8" height="5.7" fill="#c0402a" opacity="0.8"/>
<rect x="665.8" y="164.6" width="1.8" height="4.2" fill="#d8c040" opacity="0.7"/>
<rect x="667.9" y="158.7" width="1.0" height="5.3" fill="#e8d040" opacity="0.8"/>
<rect x="670.6" y="159.1" width="1.3" height="4.9" fill="#c86040" opacity="0.8"/>
<rect x="671.1" y="164.6" width="1.8" height="4.2" fill="#e0d050" opacity="0.7"/>
<rect x="672.7" y="159.3" width="1.3" height="4.7" fill="#e8d040" opacity="0.8"/>
<rect x="673.2" y="164.6" width="1.8" height="4.2" fill="#b04030" opacity="0.7"/>
<rect x="675.5" y="159.7" width="1.8" height="4.3" fill="#d8b040" opacity="0.8"/>
<rect x="678.1" y="160.1" width="1.0" height="3.9" fill="#d8b040" opacity="0.8"/>
<rect x="681.6" y="164.6" width="1.4" height="4.2" fill="#c05030" opacity="0.35"/>
<rect x="683.8" y="164.6" width="1.8" height="4.2" fill="#e0d050" opacity="0.35"/>
<rect x="686.9" y="164.6" width="1.0" height="4.2" fill="#d8c040" opacity="0.35"/>
<rect x="688.4" y="161.5" width="1.0" height="2.5" fill="#f0c040" opacity="0.8"/>
<rect x="709.9" y="164.6" width="1.0" height="4.2" fill="#a0a050" opacity="0.35"/>
<rect x="718.8" y="164.6" width="1.8" height="4.2" fill="#a0a050" opacity="0.35"/>
<rect x="733.9" y="164.6" width="1.0" height="4.2" fill="#e0d050" opacity="0.35"/>
<rect x="742.2" y="164.6" width="1.0" height="4.2" fill="#c05030" opacity="0.35"/>
<rect x="745.0" y="164.6" width="1.8" height="4.2" fill="#8a5aa0" opacity="0.35"/>
<polygon points="198.6,128.2 200.2,132.3 204.7,132.6 201.3,135.5 202.4,139.8 198.6,137.4 194.8,139.8 195.9,135.5 192.5,132.6 197.0,132.3" fill="#f07a55" transform="translate(198.6 0) scale(1.12 1) translate(-198.6 0)"/>
<polygon points="198.6,131.8 199.4,133.5 201.3,133.7 199.8,135.0 200.2,136.9 198.6,135.9 197.0,136.9 197.4,135.0 195.9,133.7 197.8,133.5" fill="#e04a2a" opacity="0.8"/>
</g>
<rect x="80.2" y="174" width="1.2" height="107" fill="#7a7a7a"/>
<rect x="81.4" y="175" width="10" height="105" fill="url(#shg)"/>
<rect x="190" y="173" width="1.2" height="88.5" fill="#707070"/>
<polygon points="169.1,266.7 214.6,266.7 192,297.4" fill="#3a3838"/>
<rect x="81.8" y="298.7" width="35.6" height="20.1" fill="url(#ex)" stroke="#4a4448" stroke-width="1.1" filter="url(#sh)"/>
<rect x="119.6" y="298.7" width="17.7" height="20.1" fill="url(#ex)" stroke="#4a4448" stroke-width="1.1" filter="url(#sh)"/>
<rect x="140.3" y="298.7" width="142.8" height="20.1" fill="url(#ex)" stroke="#4a4448" stroke-width="1.1" filter="url(#sh)"/>
<rect x="285.9" y="298.7" width="460.6" height="20.1" fill="url(#ex)" stroke="#4a4448" stroke-width="1.1" filter="url(#sh)"/>
<g font-family="Liberation Sans, sans-serif" fill="#111">
<text x="111" y="190.1" font-size="15.5">1-318 bp</text>
<text x="107.3" y="290.3" font-size="14.6">Exon 2</text>
<text x="171" y="315.9" font-size="15.5">+318</text>
<text x="77.5" y="344" font-size="14.6">Exon 1</text>
<text x="177" y="344" font-size="14.6">Exon 3</text>
<text x="521" y="344" font-size="14.6">Exon 4</text>
<text x="0" y="167.5" font-size="19.5" font-style="italic">poco1</text>
<text x="25.8" y="549.5" font-size="20">wt</text>
</g>
<g filter="url(#soft)">
<polygon points="80.6,552.5 80.6,542.6 83.0,542.6 83.0,539.4 85.5,539.4 85.5,539.6 88.0,539.6 88.0,537.2 90.4,537.2 90.4,538.0 92.6,538.0 92.6,535.7 94.8,535.7 94.8,537.0 97.0,537.0 97.0,536.3 99.2,536.3 99.2,536.2 101.4,536.2 101.4,536.2 103.6,536.2 103.6,534.3 105.8,534.3 105.8,534.1 108.0,534.1 108.0,534.5 110.2,534.5 110.2,533.2 112.4,533.2 112.4,532.8 114.6,532.8 114.6,532.4 116.8,532.4 116.8,533.3 119.0,533.3 119.0,532.9 121.2,532.9 121.2,532.6 123.6,532.6 123.6,531.5 125.9,531.5 125.9,533.0 128.3,533.0 128.3,532.2 130.7,532.2 130.7,531.7 133.0,531.7 133.0,532.2 135.4,532.2 135.4,532.2 137.8,532.2 137.8,531.6 140.2,531.6 140.2,532.7 142.5,532.7 142.5,532.3 144.9,532.3 144.9,532.8 147.3,532.8 147.3,533.6 149.6,533.6 149.6,533.1 152.0,533.1 152.0,532.5 154.2,532.5 154.2,533.1 156.4,533.1 156.4,533.1 158.6,533.1 158.6,531.8 160.7,531.8 160.7,532.4 162.9,532.4 162.9,530.3 165.1,530.3 165.1,530.2 167.3,530.2 167.3,530.3 169.5,530.3 169.5,532.2 171.7,532.2 171.7,532.1 173.9,532.1 173.9,532.5 176.1,532.5 176.1,532.0 178.3,532.0 178.3,532.8 180.5,532.8 180.5,533.9 182.7,533.9 182.7,532.8 185.3,532.8 185.3,533.5 187.8,533.5 187.8,534.0 190.4,534.0 190.4,535.5 193.0,535.5 193.0,536.2 195.6,536.2 195.6,534.8 198.1,534.8 198.1,533.8 200.6,533.8 200.6,533.2 203.2,533.2 203.2,532.1 205.5,532.1 205.5,533.6 207.9,533.6 207.9,532.3 210.2,532.3 210.2,532.0 212.5,532.0 212.5,532.1 214.8,532.1 214.8,533.0 217.2,533.0 217.2,532.0 219.5,532.0 219.5,533.1 221.8,533.1 221.8,531.9 224.1,531.9 224.1,532.0 226.5,532.0 226.5,531.2 228.8,531.2 228.8,532.7 231.0,532.7 231.0,532.2 233.2,532.2 233.2,531.3 235.4,531.3 235.4,530.4 237.6,530.4 237.6,530.9 239.8,530.9 239.8,530.4 242.0,530.4 242.0,531.1 244.2,531.1 244.2,531.3 246.4,531.3 246.4,531.1 248.6,531.1 248.6,530.4 250.8,530.4 250.8,530.1 252.9,530.1 252.9,532.0 255.1,532.0 255.1,532.4 257.3,532.4 257.3,531.0 259.5,531.0 259.5,531.9 261.7,531.9 261.7,532.0 261.7,509.1 265.0,509.1 265.0,509.1 266.0,509.1 266.0,506.8 267.2,506.8 267.2,509.1 267.2,509.1 267.2,508.0 269.5,508.0 269.5,508.2 271.7,508.2 271.7,507.5 271.7,502.3 274.2,502.3 274.2,499.8 275.2,499.8 275.2,496.1 276.4,496.1 276.4,499.8 276.7,499.8 276.7,498.3 279.2,498.3 279.2,495.9 281.7,495.9 281.7,493.7 283.9,493.7 283.9,492.7 286.1,492.7 286.1,491.5 288.3,491.5 288.3,488.6 290.4,488.6 290.4,488.4 292.5,488.4 292.5,481.7 292.9,481.7 292.9,478.4 294.1,478.4 294.1,481.7 293.3,481.7 293.3,473.8 295.8,473.8 295.8,472.9 298.3,472.9 298.3,469.6 300.0,469.6 300.0,469.1 302.5,469.1 302.5,468.7 303.5,468.7 303.5,462.4 304.7,462.4 304.7,468.7 305.0,468.7 305.0,472.1 307.5,472.1 307.5,482.7 308.3,482.7 308.3,490.4 308.9,490.4 308.9,487.9 310.1,487.9 310.1,490.4 310.4,490.4 310.4,490.9 312.5,490.9 312.5,491.2 314.6,491.2 314.6,491.9 316.7,491.9 316.7,485.3 317.5,485.3 317.5,478.3 319.6,478.3 319.6,477.5 321.7,477.5 321.7,477.2 325.0,477.2 325.0,476.3 326.7,476.3 326.7,471.9 329.2,471.9 329.2,470.9 330.1,470.9 330.1,466.2 331.3,466.2 331.3,470.9 331.7,470.9 331.7,468.9 335.0,468.9 335.0,468.1 337.0,468.1 337.0,464.9 339.0,464.9 339.0,461.2 341.0,461.2 341.0,458.1 342.4,458.1 342.4,454.7 343.6,454.7 343.6,458.1 343.8,458.1 343.8,462.5 346.5,462.5 346.5,466.5 349.3,466.5 349.3,462.4 351.4,462.4 351.4,462.3 353.4,462.3 353.4,463.1 355.4,463.1 355.4,462.2 357.5,462.2 357.5,451.1 357.8,451.1 357.8,444.8 359.0,444.8 359.0,451.1 358.9,451.1 358.9,438.4 360.9,438.4 360.9,433.8 363.0,433.8 363.0,429.9 365.1,429.9 365.1,428.7 367.1,428.7 367.1,427.7 369.2,427.7 369.2,426.6 371.3,426.6 371.3,431.8 374.0,431.8 374.0,431.8 376.1,431.8 376.1,424.5 378.2,424.5 378.2,422.3 379.3,422.3 379.3,417.0 380.5,417.0 380.5,422.3 380.5,422.3 380.5,420.9 382.7,420.9 382.7,418.8 385.0,418.8 385.0,417.2 387.9,417.2 387.9,414.7 390.1,414.7 390.1,414.2 392.3,414.2 392.3,414.3 393.0,414.3 393.0,407.5 394.2,407.5 394.2,414.3 394.5,414.3 394.5,413.2 396.7,413.2 396.7,412.8 398.9,412.8 398.9,411.1 401.6,411.1 401.6,410.8 404.4,410.8 404.4,410.1 406.4,410.1 406.4,410.5 408.5,410.5 408.5,411.2 410.6,411.2 410.6,410.2 412.6,410.2 412.6,413.9 413.7,413.9 413.7,407.5 414.9,407.5 414.9,413.9 415.4,413.9 415.4,414.0 418.2,414.0 418.2,418.3 418.8,418.3 418.8,413.0 420.0,413.0 420.0,418.3 420.5,418.3 420.5,424.1 422.7,424.1 422.7,433.1 425.0,433.1 425.0,437.1 427.8,437.1 427.8,437.8 430.5,437.8 430.5,436.5 433.2,436.5 433.2,430.2 436.0,430.2 436.0,427.0 438.8,427.0 438.8,427.3 441.5,427.3 441.5,425.1 444.3,425.1 444.3,427.8 447.1,427.8 447.1,431.3 447.8,431.3 447.8,428.6 449.0,428.6 449.0,431.3 449.8,431.3 449.8,436.8 452.5,436.8 452.5,439.3 453.4,439.3 453.4,433.8 454.6,433.8 454.6,439.3 454.6,439.3 454.6,436.4 456.7,436.4 456.7,435.7 458.8,435.7 458.8,436.2 460.8,436.2 460.8,445.4 463.6,445.4 463.6,452.0 466.3,452.0 466.3,453.7 469.0,453.7 469.0,450.0 471.1,450.0 471.1,442.9 473.2,442.9 473.2,436.9 475.2,436.9 475.2,433.0 475.8,433.0 475.8,427.2 477.0,427.2 477.0,433.0 477.3,433.0 477.3,429.9 479.5,429.9 479.5,429.9 481.7,429.9 481.7,429.8 484.0,429.8 484.0,429.0 486.2,429.0 486.2,429.9 488.4,429.9 488.4,428.6 491.1,428.6 491.1,450.4 492.5,450.4 492.5,469.2 494.8,469.2 494.8,468.0 497.1,468.0 497.1,468.8 497.6,468.8 497.6,463.6 498.8,463.6 498.8,468.8 499.4,468.8 499.4,470.0 502.1,470.0 502.1,470.8 504.9,470.8 504.9,466.9 507.6,466.9 507.6,467.1 508.5,467.1 508.5,464.4 509.7,464.4 509.7,467.1 510.4,467.1 510.4,468.1 513.2,468.1 513.2,469.1 513.8,469.1 513.8,464.6 515.0,464.6 515.0,469.1 515.5,469.1 515.5,469.7 517.7,469.7 517.7,470.9 520.0,470.9 520.0,477.5 522.8,477.5 522.8,490.0 525.5,490.0 525.5,497.9 528.2,497.9 528.2,497.7 531.0,497.7 531.0,490.2 532.4,490.2 532.4,482.1 533.0,482.1 533.0,476.1 534.2,476.1 534.2,482.1 534.7,482.1 534.7,482.1 537.0,482.1 537.0,479.9 539.3,479.9 539.3,477.7 542.0,477.7 542.0,470.9 544.8,470.9 544.8,464.8 547.5,464.8 547.5,458.0 550.3,458.0 550.3,452.2 553.0,452.2 553.0,447.8 555.8,447.8 555.8,445.9 558.6,445.9 558.6,447.2 560.7,447.2 560.7,450.1 562.7,450.1 562.7,449.3 564.8,449.3 564.8,448.7 565.3,448.7 565.3,444.9 566.5,444.9 566.5,448.7 566.8,448.7 566.8,444.7 569.5,444.7 569.5,442.5 570.7,442.5 570.7,438.1 571.9,438.1 571.9,442.5 572.3,442.5 572.3,439.4 574.6,439.4 574.6,438.2 576.9,438.2 576.9,436.5 579.2,436.5 579.2,434.1 579.8,434.1 579.8,430.5 581.0,430.5 581.0,434.1 581.5,434.1 581.5,435.1 583.8,435.1 583.8,434.5 586.1,434.5 586.1,434.6 588.4,434.6 588.4,435.4 590.7,435.4 590.7,434.9 593.0,434.9 593.0,440.3 594.4,440.3 594.4,444.5 596.7,444.5 596.7,445.2 599.0,445.2 599.0,445.0 600.1,445.0 600.1,441.6 601.3,441.6 601.3,445.0 601.3,445.0 601.3,454.6 601.9,454.6 601.9,452.2 603.1,452.2 603.1,454.6 602.6,454.6 602.6,464.5 603.0,464.5 603.0,460.7 604.2,460.7 604.2,464.5 604.7,464.5 604.7,466.2 606.8,466.2 606.8,454.9 608.2,454.9 608.2,442.8 611.0,442.8 611.0,443.3 613.7,443.3 613.7,442.4 615.7,442.4 615.7,444.9 617.8,444.9 617.8,444.3 619.8,444.3 619.8,443.4 622.2,443.4 622.2,438.9 624.6,438.9 624.6,437.7 627.0,437.7 627.0,444.1 629.3,444.1 629.3,448.3 631.7,448.3 631.7,450.1 634.1,450.1 634.1,461.0 635.3,461.0 635.3,471.6 637.3,471.6 637.3,470.5 638.0,470.5 638.0,466.7 639.2,466.7 639.2,470.5 639.3,470.5 639.3,471.4 641.3,471.4 641.3,457.1 643.7,457.1 643.7,443.2 646.1,443.2 646.1,441.2 648.5,441.2 648.5,441.4 650.9,441.4 650.9,445.4 652.1,445.4 652.1,452.2 654.5,452.2 654.5,458.9 656.8,458.9 656.8,462.3 658.8,462.3 658.8,463.6 660.8,463.6 660.8,464.6 662.8,464.6 662.8,464.2 665.2,464.2 665.2,467.7 667.6,467.7 667.6,468.5 670.0,468.5 670.0,471.9 672.4,471.9 672.4,475.4 674.8,475.4 674.8,477.2 675.7,477.2 675.7,470.3 676.9,470.3 676.9,477.2 677.1,477.2 677.1,477.9 678.2,477.9 678.2,473.3 679.4,473.3 679.4,477.9 679.5,477.9 679.5,481.3 681.3,481.3 681.3,487.1 681.8,487.1 681.8,484.6 683.0,484.6 683.0,487.1 683.1,487.1 683.1,490.6 684.9,490.6 684.9,491.0 686.7,491.0 686.7,491.7 686.7,508.2 687.8,508.2 687.8,501.5 689.0,501.5 689.0,508.2 689.2,508.2 689.2,509.4 691.8,509.4 691.8,508.7 694.4,508.7 694.4,508.2 695.6,508.2 695.6,504.9 696.8,504.9 696.8,508.2 696.9,508.2 696.9,509.1 697.4,520.1 700.0,520.1 700.0,522.1 701.0,522.1 701.0,519.1 702.2,519.1 702.2,522.1 702.5,522.1 702.5,522.7 705.3,522.7 705.3,524.2 708.1,524.2 708.1,522.5 710.9,522.5 710.9,523.0 713.7,523.0 713.7,523.4 715.9,523.4 715.9,522.3 718.2,522.3 718.2,522.5 720.4,522.5 720.4,523.3 722.7,523.3 722.7,522.7 724.9,522.7 724.9,523.8 727.2,523.8 727.2,524.5 729.4,524.5 729.4,526.1 732.8,526.1 732.8,530.3 736.2,530.3 736.2,533.8 738.4,533.8 738.4,533.0 740.7,533.0 740.7,535.3 742.9,535.3 742.9,535.0 744.9,535.0 744.9,536.1 746.8,536.1 746.8,535.7 748.8,535.7 748.8,536.1 748.8,552.5" fill="#77b4f9"/>
<polygon points="80.6,552.5 80.6,545.8 82.8,545.8 82.8,545.5 85.0,545.5 85.0,545.0 87.3,545.0 87.3,544.6 89.5,544.6 89.5,544.1 91.7,544.1 91.7,544.1 93.9,544.1 93.9,543.0 96.2,543.0 96.2,543.2 98.4,543.2 98.4,541.7 100.6,541.7 100.6,541.8 102.9,541.8 102.9,541.6 105.2,541.6 105.2,541.0 107.5,541.0 107.5,541.7 109.8,541.7 109.8,540.7 112.0,540.7 112.0,541.2 114.3,541.2 114.3,541.2 116.6,541.2 116.6,539.7 118.9,539.7 118.9,540.5 121.2,540.5 121.2,540.2 123.6,540.2 123.6,540.1 125.9,540.1 125.9,539.2 128.3,539.2 128.3,540.0 130.7,540.0 130.7,540.4 133.0,540.4 133.0,539.9 135.4,539.9 135.4,539.9 137.8,539.9 137.8,540.1 140.2,540.1 140.2,540.2 142.5,540.2 142.5,541.1 144.9,541.1 144.9,540.5 147.3,540.5 147.3,540.7 149.6,540.7 149.6,541.2 152.0,541.2 152.0,541.8 154.3,541.8 154.3,540.8 156.7,540.8 156.7,540.6 159.0,540.6 159.0,542.2 161.3,542.2 161.3,542.1 163.6,542.1 163.6,542.1 166.0,542.1 166.0,541.8 168.3,541.8 168.3,541.5 170.6,541.5 170.6,541.5 172.9,541.5 172.9,541.8 175.3,541.8 175.3,542.2 177.6,542.2 177.6,541.5 179.9,541.5 179.9,542.3 182.1,542.3 182.1,542.2 184.4,542.2 184.4,540.8 186.7,540.8 186.7,541.9 188.9,541.9 188.9,541.2 191.2,541.2 191.2,541.7 193.5,541.7 193.5,540.8 195.7,540.8 195.7,541.1 198.0,541.1 198.0,540.4 200.4,540.4 200.4,540.6 202.7,540.6 202.7,540.3 205.1,540.3 205.1,539.5 207.5,539.5 207.5,539.7 209.8,539.7 209.8,539.7 212.2,539.7 212.2,539.9 214.6,539.9 214.6,539.8 217.0,539.8 217.0,540.0 219.3,540.0 219.3,540.2 221.7,540.2 221.7,539.7 224.1,539.7 224.1,539.5 226.4,539.5 226.4,539.7 228.8,539.7 228.8,540.4 231.2,540.4 231.2,540.0 233.5,540.0 233.5,539.7 235.8,539.7 235.8,539.9 238.2,539.9 238.2,538.9 240.6,538.9 240.6,538.6 242.9,538.6 242.9,538.5 245.2,538.5 245.2,538.5 247.6,538.5 247.6,538.2 249.9,538.2 249.9,539.1 252.3,539.1 252.3,539.5 254.7,539.5 254.7,538.1 257.0,538.1 257.0,538.9 259.3,538.9 259.3,539.2 261.7,539.2 261.7,538.5 261.7,519.2 265.0,519.2 265.0,516.2 267.2,516.2 267.2,515.6 269.5,515.6 269.5,513.6 271.7,513.6 271.7,512.2 273.8,512.2 273.8,510.6 275.9,510.6 275.9,510.2 277.9,510.2 277.9,509.6 280.0,509.6 280.0,506.4 282.2,506.4 282.2,504.0 284.4,504.0 284.4,501.9 286.6,501.9 286.6,498.8 288.9,498.8 288.9,497.0 291.1,497.0 291.1,494.9 293.3,494.9 293.3,493.1 295.6,493.1 295.6,492.1 298.0,492.1 298.0,491.7 300.3,491.7 300.3,491.7 302.7,491.7 302.7,492.1 305.0,492.1 305.0,493.8 307.5,493.8 307.5,496.1 310.0,496.1 310.0,497.1 312.5,497.1 312.5,497.6 315.0,497.6 315.0,499.0 317.5,499.0 317.5,499.2 319.6,499.2 319.6,498.8 321.7,498.8 321.7,497.0 325.0,497.0 325.0,494.7 328.3,494.7 328.3,492.5 330.5,492.5 330.5,492.7 332.8,492.7 332.8,491.8 335.0,491.8 335.0,489.3 337.0,489.3 337.0,486.3 339.0,486.3 339.0,483.5 341.0,483.5 341.0,484.3 343.8,484.3 343.8,487.3 346.5,487.3 346.5,486.7 349.3,486.7 349.3,483.7 351.4,483.7 351.4,484.4 353.4,484.4 353.4,484.1 355.4,484.1 355.4,484.9 357.5,484.9 357.5,474.1 360.3,474.1 360.3,462.4 362.5,462.4 362.5,461.5 364.7,461.5 364.7,462.1 366.9,462.1 366.9,460.1 369.1,460.1 369.1,459.6 371.3,459.6 371.3,462.0 374.0,462.0 374.0,463.0 376.1,463.0 376.1,459.7 378.2,459.7 378.2,457.6 380.4,457.6 380.4,457.0 382.5,457.0 382.5,455.7 384.7,455.7 384.7,456.0 386.9,456.0 386.9,455.5 389.1,455.5 389.1,455.0 391.2,455.0 391.2,453.7 393.4,453.7 393.4,453.7 395.8,453.7 395.8,454.5 398.2,454.5 398.2,454.5 400.6,454.5 400.6,453.6 403.0,453.6 403.0,454.2 405.4,454.2 405.4,454.1 407.8,454.1 407.8,455.2 410.2,455.2 410.2,454.9 412.6,454.9 412.6,454.2 415.4,454.2 415.4,452.6 418.2,452.6 418.2,458.4 420.2,458.4 420.2,471.2 422.3,471.2 422.3,478.0 425.0,478.0 425.0,476.5 427.2,476.5 427.2,473.8 429.4,473.8 429.4,471.1 431.6,471.1 431.6,467.2 433.8,467.2 433.8,465.6 436.0,465.6 436.0,462.9 438.2,462.9 438.2,464.4 440.4,464.4 440.4,464.2 442.6,464.2 442.6,466.0 444.8,466.0 444.8,466.1 447.0,466.1 447.0,467.7 449.8,467.7 449.8,470.6 452.6,470.6 452.6,471.8 455.3,471.8 455.3,472.5 458.1,472.5 458.1,472.9 460.8,472.9 460.8,479.4 463.6,479.4 463.6,485.1 466.3,485.1 466.3,484.0 469.0,484.0 469.0,480.7 471.1,480.7 471.1,477.1 473.1,477.1 473.1,473.6 475.2,473.6 475.2,469.4 477.3,469.4 477.3,466.6 479.5,466.6 479.5,466.4 481.7,466.4 481.7,465.2 484.0,465.2 484.0,465.0 486.2,465.0 486.2,464.2 488.4,464.2 488.4,473.0 490.4,473.0 490.4,489.6 492.5,489.6 492.5,498.7 494.8,498.7 494.8,500.6 497.1,500.6 497.1,500.7 499.4,500.7 499.4,503.1 502.1,503.1 502.1,506.2 504.9,506.2 504.9,505.0 507.6,505.0 507.6,497.5 510.4,497.5 510.4,494.7 512.5,494.7 512.5,495.7 514.5,495.7 514.5,496.3 516.6,496.3 516.6,495.6 518.7,495.6 518.7,501.3 520.0,501.3 520.0,505.6 522.8,505.6 522.8,508.4 525.5,508.4 525.5,512.8 528.3,512.8 528.3,509.7 531.0,509.7 531.0,503.0 533.8,503.0 533.8,501.0 536.5,501.0 536.5,498.3 538.6,498.3 538.6,495.4 540.6,495.4 540.6,493.1 542.7,493.1 542.7,490.2 544.8,490.2 544.8,487.6 546.8,487.6 546.8,485.0 548.9,485.0 548.9,483.4 551.0,483.4 551.0,480.3 553.0,480.3 553.0,480.1 555.2,480.1 555.2,478.5 557.4,478.5 557.4,477.2 559.7,477.2 559.7,476.8 561.9,476.8 561.9,475.7 564.1,475.7 564.1,475.8 566.3,475.8 566.3,474.3 568.5,474.3 568.5,472.9 570.7,472.9 570.7,472.4 572.9,472.4 572.9,471.3 575.1,471.3 575.1,471.6 577.9,471.6 577.9,469.4 580.6,469.4 580.6,469.8 582.8,469.8 582.8,470.3 585.0,470.3 585.0,470.8 587.2,470.8 587.2,472.1 589.4,472.1 589.4,472.7 591.6,472.7 591.6,473.0 593.7,473.0 593.7,475.9 595.8,475.9 595.8,476.2 597.8,476.2 597.8,478.1 599.9,478.1 599.9,486.0 602.6,486.0 602.6,494.8 604.7,494.8 604.7,494.1 606.8,494.1 606.8,486.7 608.2,486.7 608.2,479.2 610.5,479.2 610.5,479.7 612.7,479.7 612.7,480.4 615.0,480.4 615.0,479.1 617.4,479.1 617.4,478.7 619.8,478.7 619.8,475.8 622.2,475.8 622.2,475.1 624.6,475.1 624.6,471.9 627.0,471.9 627.0,473.1 629.4,473.1 629.4,474.1 631.8,474.1 631.8,476.8 634.1,476.8 634.1,478.9 636.5,478.9 636.5,481.2 638.9,481.2 638.9,481.5 641.3,481.5 641.3,477.9 643.7,477.9 643.7,470.9 646.1,470.9 646.1,470.2 648.5,470.2 648.5,467.6 650.9,467.6 650.9,471.7 653.2,471.7 653.2,482.6 655.6,482.6 655.6,487.0 658.0,487.0 658.0,488.3 660.4,488.3 660.4,489.0 662.8,489.0 662.8,489.4 665.2,489.4 665.2,489.9 667.6,489.9 667.6,491.2 670.0,491.2 670.0,491.8 672.4,491.8 672.4,493.1 674.8,493.1 674.8,493.6 677.2,493.6 677.2,495.2 679.6,495.2 679.6,499.8 682.0,499.8 682.0,506.2 683.8,506.2 683.8,514.0 685.5,514.0 685.5,518.0 685.6,520.1 687.9,520.1 687.9,520.3 690.1,520.3 690.1,521.6 692.4,521.6 692.4,521.1 694.6,521.1 694.6,521.7 696.9,521.7 696.9,521.5 697.4,529.3 699.7,529.3 699.7,530.8 702.1,530.8 702.1,531.1 704.4,531.1 704.4,530.4 706.7,530.4 706.7,530.7 709.0,530.7 709.0,531.5 711.4,531.5 711.4,532.2 713.7,532.2 713.7,532.0 715.9,532.0 715.9,530.6 718.2,530.6 718.2,530.6 720.4,530.6 720.4,531.6 722.7,531.6 722.7,530.7 724.9,530.7 724.9,531.4 727.2,531.4 727.2,530.4 729.4,530.4 729.4,533.2 731.7,533.2 731.7,535.1 733.9,535.1 733.9,537.4 736.2,537.4 736.2,537.7 738.4,537.7 738.4,537.6 740.5,537.6 740.5,538.0 742.6,538.0 742.6,537.9 744.6,537.9 744.6,538.6 746.7,538.6 746.7,539.6 748.8,539.6 748.8,538.9 748.8,552.5" fill="#fa984c"/>
<polygon points="80.6,552.5 80.6,547.4 82.8,547.4 82.8,547.8 85.0,547.8 85.0,547.9 87.3,547.9 87.3,546.6 89.5,546.6 89.5,547.3 91.7,547.3 91.7,547.0 93.9,547.0 93.9,546.8 96.2,546.8 96.2,545.7 98.4,545.7 98.4,545.4 100.6,545.4 100.6,546.0 102.9,546.0 102.9,546.6 105.3,546.6 105.3,545.6 107.6,545.6 107.6,546.0 109.9,546.0 109.9,545.6 112.3,545.6 112.3,546.5 114.6,546.5 114.6,546.6 117.0,546.6 117.0,545.6 119.3,545.6 119.3,546.6 121.6,546.6 121.6,544.9 124.0,544.9 124.0,546.2 126.3,546.2 126.3,546.3 128.6,546.3 128.6,545.1 131.0,545.1 131.0,546.1 133.3,546.1 133.3,545.9 135.6,545.9 135.6,546.7 138.0,546.7 138.0,545.4 140.3,545.4 140.3,546.0 142.7,546.0 142.7,546.7 145.0,546.7 145.0,546.3 147.3,546.3 147.3,545.8 149.7,545.8 149.7,545.4 152.0,545.4 152.0,547.0 154.3,547.0 154.3,546.3 156.6,546.3 156.6,547.3 158.8,547.3 158.8,545.8 161.1,545.8 161.1,547.1 163.4,547.1 163.4,547.1 165.7,547.1 165.7,547.4 167.9,547.4 167.9,545.8 170.2,545.8 170.2,546.5 172.5,546.5 172.5,546.0 174.8,546.0 174.8,547.4 177.1,547.4 177.1,546.7 179.3,546.7 179.3,547.9 181.6,547.9 181.6,546.9 183.9,546.9 183.9,547.7 186.2,547.7 186.2,547.9 188.4,547.9 188.4,546.8 190.7,546.8 190.7,547.5 193.0,547.5 193.0,548.1 195.3,548.1 195.3,547.1 197.6,547.1 197.6,546.5 199.9,546.5 199.9,546.1 202.2,546.1 202.2,546.8 204.5,546.8 204.5,545.5 206.8,545.5 206.8,546.0 209.1,546.0 209.1,545.6 211.4,545.6 211.4,545.4 213.7,545.4 213.7,544.4 216.0,544.4 216.0,545.2 218.3,545.2 218.3,545.6 220.6,545.6 220.6,544.4 222.9,544.4 222.9,544.4 225.1,544.4 225.1,545.3 227.4,545.3 227.4,544.7 229.7,544.7 229.7,544.1 232.0,544.1 232.0,543.5 234.3,543.5 234.3,544.8 236.6,544.8 236.6,544.0 238.8,544.0 238.8,544.2 241.1,544.2 241.1,543.7 243.4,543.7 243.4,544.3 245.7,544.3 245.7,544.4 248.0,544.4 248.0,543.6 250.3,543.6 250.3,543.1 252.6,543.1 252.6,544.7 254.8,544.7 254.8,544.5 257.1,544.5 257.1,542.8 259.4,542.8 259.4,543.7 261.7,543.7 261.7,543.6 261.7,534.9 264.2,534.9 264.2,533.6 266.7,533.6 266.7,533.4 269.2,533.4 269.2,532.9 271.7,532.9 271.7,531.4 273.9,531.4 273.9,530.3 276.1,530.3 276.1,529.1 278.3,529.1 278.3,528.1 280.4,528.1 280.4,526.6 282.6,526.6 282.6,525.2 284.7,525.2 284.7,524.1 286.9,524.1 286.9,523.9 289.0,523.9 289.0,522.0 291.2,522.0 291.2,521.2 293.3,521.2 293.3,520.7 295.6,520.7 295.6,520.3 298.0,520.3 298.0,518.8 300.3,518.8 300.3,520.2 302.7,520.2 302.7,518.5 305.0,518.5 305.0,520.7 307.5,520.7 307.5,522.9 310.0,522.9 310.0,523.7 312.1,523.7 312.1,523.5 314.1,523.5 314.1,523.1 316.2,523.1 316.2,523.3 318.3,523.3 318.3,523.7 320.5,523.7 320.5,521.6 322.8,521.6 322.8,520.8 325.0,520.8 325.0,519.3 327.5,519.3 327.5,518.5 330.0,518.5 330.0,518.1 332.5,518.1 332.5,518.2 335.0,518.2 335.0,516.6 338.3,516.6 338.3,515.6 340.5,515.6 340.5,516.1 342.7,516.1 342.7,516.5 344.9,516.5 344.9,516.7 347.1,516.7 347.1,516.9 349.3,516.9 349.3,518.1 351.4,518.1 351.4,518.1 353.4,518.1 353.4,517.5 355.4,517.5 355.4,518.0 357.5,518.0 357.5,514.1 359.6,514.1 359.6,506.9 361.7,506.9 361.7,502.1 364.1,502.1 364.1,502.7 366.5,502.7 366.5,501.7 368.9,501.7 368.9,500.8 371.3,500.8 371.3,501.8 373.4,501.8 373.4,501.8 375.5,501.8 375.5,503.3 377.5,503.3 377.5,505.0 379.6,505.0 379.6,504.5 381.8,504.5 381.8,504.1 384.0,504.1 384.0,503.1 386.2,503.1 386.2,503.6 388.4,503.6 388.4,502.6 390.6,502.6 390.6,501.4 392.8,501.4 392.8,501.2 395.0,501.2 395.0,501.4 397.2,501.4 397.2,501.0 399.4,501.0 399.4,500.8 401.6,500.8 401.6,500.5 403.8,500.5 403.8,502.0 406.0,502.0 406.0,503.0 408.2,503.0 408.2,503.9 410.4,503.9 410.4,504.2 412.6,504.2 412.6,506.0 415.4,506.0 415.4,508.8 418.2,508.8 418.2,511.6 420.9,511.6 420.9,514.3 423.7,514.3 423.7,515.1 425.8,515.1 425.8,516.0 427.9,516.0 427.9,517.7 430.0,517.7 430.0,517.0 432.0,517.0 432.0,515.0 434.0,515.0 434.0,514.1 436.0,514.1 436.0,512.3 438.1,512.3 438.1,512.1 440.1,512.1 440.1,512.2 442.2,512.2 442.2,512.1 444.3,512.1 444.3,511.4 446.4,511.4 446.4,513.6 448.4,513.6 448.4,515.8 450.4,515.8 450.4,516.6 452.5,516.6 452.5,518.1 454.7,518.1 454.7,516.8 456.9,516.8 456.9,518.5 459.2,518.5 459.2,518.7 461.4,518.7 461.4,517.5 463.6,517.5 463.6,518.4 465.8,518.4 465.8,518.5 468.0,518.5 468.0,517.3 470.2,517.3 470.2,517.8 472.4,517.8 472.4,517.9 474.6,517.9 474.6,517.7 476.9,517.7 476.9,517.3 479.2,517.3 479.2,516.9 481.5,516.9 481.5,518.0 483.8,518.0 483.8,517.6 486.1,517.6 486.1,518.5 488.4,518.5 488.4,520.8 490.4,520.8 490.4,526.5 492.5,526.5 492.5,529.9 494.9,529.9 494.9,531.1 497.3,531.1 497.3,532.0 499.7,532.0 499.7,531.7 502.1,531.7 502.1,530.6 504.9,530.6 504.9,530.6 507.6,530.6 507.6,528.9 509.7,528.9 509.7,528.9 511.8,528.9 511.8,528.3 513.8,528.3 513.8,526.2 515.9,526.2 515.9,527.3 518.2,527.3 518.2,526.8 520.5,526.8 520.5,527.3 522.7,527.3 522.7,527.6 525.0,527.6 525.0,528.9 528.3,528.9 528.3,528.5 530.3,528.5 530.3,527.9 532.4,527.9 532.4,526.5 534.5,526.5 534.5,525.1 536.5,525.1 536.5,524.6 538.7,524.6 538.7,524.8 540.9,524.8 540.9,523.6 543.1,523.6 543.1,522.9 545.3,522.9 545.3,522.6 547.5,522.6 547.5,521.9 549.7,521.9 549.7,523.1 551.9,523.1 551.9,522.4 554.2,522.4 554.2,521.0 556.4,521.0 556.4,521.0 558.6,521.0 558.6,520.8 560.8,520.8 560.8,520.4 563.0,520.4 563.0,519.6 565.2,519.6 565.2,519.4 567.4,519.4 567.4,519.2 569.6,519.2 569.6,517.5 572.0,517.5 572.0,517.6 574.4,517.6 574.4,516.1 576.8,516.1 576.8,516.1 579.2,516.1 579.2,515.7 581.6,515.7 581.6,517.3 584.0,517.3 584.0,518.1 586.5,518.1 586.5,519.0 588.9,519.0 588.9,518.6 591.1,518.6 591.1,519.5 593.3,519.5 593.3,519.3 595.5,519.3 595.5,520.8 597.7,520.8 597.7,521.4 599.9,521.4 599.9,523.1 602.6,523.1 602.6,527.1 605.4,527.1 605.4,520.3 608.2,520.3 608.2,511.0 610.5,511.0 610.5,511.6 612.7,511.6 612.7,511.3 615.0,511.3 615.0,510.6 617.4,510.6 617.4,508.6 619.8,508.6 619.8,506.5 622.2,506.5 622.2,504.6 624.6,504.6 624.6,503.6 627.0,503.6 627.0,504.5 629.4,504.5 629.4,506.0 631.7,506.0 631.7,508.4 634.1,508.4 634.1,511.0 636.5,511.0 636.5,515.9 638.9,515.9 638.9,516.1 640.7,516.1 640.7,506.8 642.5,506.8 642.5,503.1 644.6,503.1 644.6,503.3 646.7,503.3 646.7,501.9 648.8,501.9 648.8,502.4 650.9,502.4 650.9,504.7 653.2,504.7 653.2,509.9 655.6,509.9 655.6,514.3 658.0,514.3 658.0,515.2 660.4,515.2 660.4,515.2 662.8,515.2 662.8,515.6 665.2,515.6 665.2,516.7 667.6,516.7 667.6,519.2 670.0,519.2 670.0,520.5 672.4,520.5 672.4,521.5 674.8,521.5 674.8,523.3 677.1,523.3 677.1,524.9 679.5,524.9 679.5,526.5 681.5,526.5 681.5,530.0 683.5,530.0 683.5,534.8 685.5,534.8 685.5,536.6 687.7,536.6 687.7,536.1 689.8,536.1 689.8,536.1 692.0,536.1 692.0,536.0 694.1,536.0 694.1,536.8 696.3,536.8 696.3,541.4 697.5,541.4 697.5,543.8 699.6,543.8 699.6,544.2 701.7,544.2 701.7,543.8 703.9,543.8 703.9,544.9 706.0,544.9 706.0,544.1 708.1,544.1 708.1,545.2 710.3,545.2 710.3,544.7 712.6,544.7 712.6,544.3 714.8,544.3 714.8,543.8 717.1,543.8 717.1,543.7 719.3,543.7 719.3,544.7 721.6,544.7 721.6,545.0 723.8,545.0 723.8,544.9 726.1,544.9 726.1,544.2 728.3,544.2 728.3,544.4 730.6,544.4 730.6,544.9 732.9,544.9 732.9,546.1 735.1,546.1 735.1,546.5 737.4,546.5 737.4,545.5 739.7,545.5 739.7,546.5 742.0,546.5 742.0,546.4 744.2,546.4 744.2,546.8 746.5,546.8 746.5,546.6 748.8,546.6 748.8,547.3 748.8,552.5" fill="#3b3939"/>
<rect x="261.9" y="519.6" width="1.2" height="13.5" fill="#c0402a" opacity="0.8"/>
<rect x="264.6" y="510.3" width="1.0" height="7.2" fill="#a8c8a0" opacity="0.8"/>
<rect x="264.8" y="520.7" width="1.0" height="11.5" fill="#c0402a" opacity="0.8"/>
<rect x="265.3" y="536.6" width="1.0" height="11.4" fill="#8a9a40" opacity="0.8"/>
<rect x="267.0" y="510.2" width="1.0" height="5.7" fill="#9a70c0" opacity="0.8"/>
<rect x="267.1" y="519.6" width="1.0" height="13.4" fill="#e8c850" opacity="0.8"/>
<rect x="266.3" y="536.4" width="1.0" height="11.6" fill="#8a9a40" opacity="0.8"/>
<rect x="269.5" y="516.2" width="1.2" height="15.0" fill="#b05030" opacity="0.8"/>
<rect x="270.0" y="534.1" width="1.2" height="13.9" fill="#6a4a9a" opacity="0.8"/>
<rect x="272.1" y="505.4" width="1.5" height="6.4" fill="#8a4a7a" opacity="0.8"/>
<rect x="271.5" y="515.2" width="1.5" height="14.9" fill="#c86040" opacity="0.8"/>
<rect x="271.4" y="536.4" width="1.5" height="11.6" fill="#d0c040" opacity="0.8"/>
<rect x="274.5" y="504.2" width="1.2" height="5.9" fill="#6a5aa0" opacity="0.8"/>
<rect x="274.9" y="512.1" width="1.2" height="18.0" fill="#d8b040" opacity="0.8"/>
<rect x="274.8" y="534.4" width="1.2" height="13.6" fill="#5a5a8a" opacity="0.8"/>
<rect x="276.9" y="515.0" width="1.2" height="14.1" fill="#c86040" opacity="0.8"/>
<rect x="276.1" y="533.9" width="1.2" height="14.1" fill="#c8d850" opacity="0.8"/>
<rect x="279.0" y="500.9" width="1.2" height="6.4" fill="#c8d060" opacity="0.8"/>
<rect x="280.4" y="509.0" width="1.2" height="18.1" fill="#a04a4a" opacity="0.8"/>
<rect x="281.1" y="529.4" width="1.2" height="18.6" fill="#8a2a2a" opacity="0.8"/>
<rect x="283.2" y="497.1" width="1.0" height="5.7" fill="#b04858" opacity="0.8"/>
<rect x="283.4" y="529.2" width="1.0" height="18.8" fill="#8a9a40" opacity="0.8"/>
<rect x="285.8" y="504.0" width="1.5" height="20.5" fill="#c0402a" opacity="0.8"/>
<rect x="285.5" y="529.7" width="1.5" height="18.3" fill="#6a4a9a" opacity="0.8"/>
<rect x="287.8" y="494.4" width="1.0" height="3.5" fill="#b04858" opacity="0.8"/>
<rect x="287.6" y="499.9" width="1.0" height="23.1" fill="#b05030" opacity="0.8"/>
<rect x="289.7" y="499.1" width="1.2" height="22.6" fill="#8a5a8a" opacity="0.8"/>
<rect x="290.6" y="524.8" width="1.2" height="23.2" fill="#d0c040" opacity="0.8"/>
<rect x="291.5" y="524.3" width="1.5" height="23.7" fill="#8a8a9a" opacity="0.8"/>
<rect x="294.5" y="476.7" width="1.0" height="14.8" fill="#b04858" opacity="0.8"/>
<rect x="295.0" y="496.2" width="1.0" height="22.1" fill="#e8c850" opacity="0.8"/>
<rect x="298.1" y="495.2" width="1.5" height="23.0" fill="#b05030" opacity="0.8"/>
<rect x="297.5" y="521.5" width="1.5" height="26.5" fill="#b04a3a" opacity="0.8"/>
<rect x="299.2" y="521.4" width="1.5" height="26.6" fill="#c8d850" opacity="0.8"/>
<rect x="304.2" y="474.1" width="1.5" height="15.2" fill="#8a4a7a" opacity="0.8"/>
<rect x="304.2" y="523.3" width="1.5" height="24.7" fill="#8a2a2a" opacity="0.8"/>
<rect x="306.6" y="478.7" width="1.5" height="11.9" fill="#a8c8a0" opacity="0.8"/>
<rect x="306.0" y="497.2" width="1.5" height="23.1" fill="#a04a4a" opacity="0.8"/>
<rect x="306.5" y="523.8" width="1.5" height="24.2" fill="#8a2a2a" opacity="0.8"/>
<rect x="308.5" y="498.2" width="1.5" height="23.3" fill="#c0402a" opacity="0.8"/>
<rect x="308.5" y="526.5" width="1.5" height="21.5" fill="#8a2a2a" opacity="0.8"/>
<rect x="311.0" y="499.0" width="1.0" height="23.9" fill="#8a5a8a" opacity="0.8"/>
<rect x="310.8" y="526.1" width="1.0" height="21.9" fill="#b04a3a" opacity="0.8"/>
<rect x="314.3" y="526.9" width="1.5" height="21.1" fill="#8a9a40" opacity="0.8"/>
<rect x="317.3" y="525.6" width="1.0" height="22.4" fill="#6a4a9a" opacity="0.8"/>
<rect x="320.2" y="502.0" width="1.2" height="19.8" fill="#c0402a" opacity="0.8"/>
<rect x="320.0" y="525.5" width="1.2" height="22.5" fill="#d0c040" opacity="0.8"/>
<rect x="322.0" y="525.4" width="1.0" height="22.6" fill="#d0c040" opacity="0.8"/>
<rect x="324.0" y="481.4" width="1.2" height="13.4" fill="#8a8ab0" opacity="0.8"/>
<rect x="323.6" y="500.7" width="1.2" height="18.1" fill="#e8c850" opacity="0.8"/>
<rect x="326.0" y="478.4" width="1.0" height="14.1" fill="#a8c8a0" opacity="0.8"/>
<rect x="326.6" y="497.9" width="1.0" height="20.3" fill="#a04a4a" opacity="0.8"/>
<rect x="328.5" y="477.6" width="1.2" height="12.7" fill="#8a8ab0" opacity="0.8"/>
<rect x="328.0" y="523.7" width="1.2" height="24.3" fill="#c8d850" opacity="0.8"/>
<rect x="329.9" y="494.6" width="1.2" height="23.3" fill="#8a5a8a" opacity="0.8"/>
<rect x="330.4" y="521.8" width="1.2" height="26.2" fill="#8a9a40" opacity="0.8"/>
<rect x="333.2" y="491.9" width="1.5" height="24.1" fill="#d8b040" opacity="0.8"/>
<rect x="333.4" y="520.1" width="1.5" height="27.9" fill="#8a2a2a" opacity="0.8"/>
<rect x="334.8" y="522.3" width="1.0" height="25.7" fill="#d0c040" opacity="0.8"/>
<rect x="337.8" y="467.5" width="1.5" height="18.6" fill="#c8d060" opacity="0.8"/>
<rect x="338.0" y="487.3" width="1.5" height="26.8" fill="#b05030" opacity="0.8"/>
<rect x="337.1" y="520.4" width="1.5" height="27.6" fill="#6a4a9a" opacity="0.8"/>
<rect x="339.4" y="488.3" width="1.2" height="26.4" fill="#e8c850" opacity="0.8"/>
<rect x="343.1" y="460.6" width="1.2" height="23.2" fill="#9a70c0" opacity="0.8"/>
<rect x="343.4" y="485.8" width="1.2" height="29.6" fill="#b05030" opacity="0.8"/>
<rect x="342.7" y="517.4" width="1.2" height="30.6" fill="#8a9a40" opacity="0.8"/>
<rect x="344.9" y="464.9" width="1.5" height="20.3" fill="#6a5aa0" opacity="0.8"/>
<rect x="344.9" y="490.7" width="1.5" height="25.0" fill="#f0b060" opacity="0.8"/>
<rect x="347.3" y="491.4" width="1.0" height="24.0" fill="#f0b060" opacity="0.8"/>
<rect x="350.1" y="467.6" width="1.0" height="13.9" fill="#a8c8a0" opacity="0.8"/>
<rect x="350.7" y="484.6" width="1.0" height="31.0" fill="#b05030" opacity="0.8"/>
<rect x="349.4" y="521.0" width="1.0" height="27.0" fill="#8a2a2a" opacity="0.8"/>
<rect x="352.1" y="466.1" width="1.2" height="17.4" fill="#b04858" opacity="0.8"/>
<rect x="351.8" y="489.3" width="1.2" height="27.7" fill="#c0402a" opacity="0.8"/>
<rect x="351.7" y="518.9" width="1.2" height="29.1" fill="#c8d850" opacity="0.8"/>
<rect x="354.2" y="467.7" width="1.0" height="16.7" fill="#7a5fb0" opacity="0.8"/>
<rect x="353.5" y="486.3" width="1.0" height="30.3" fill="#a04a4a" opacity="0.8"/>
<rect x="354.8" y="521.8" width="1.0" height="26.2" fill="#a0a060" opacity="0.8"/>
<rect x="356.2" y="488.9" width="1.5" height="28.2" fill="#f0b060" opacity="0.8"/>
<rect x="356.3" y="522.6" width="1.5" height="25.4" fill="#d0c040" opacity="0.8"/>
<rect x="361.5" y="463.9" width="1.5" height="39.3" fill="#8a5a8a" opacity="0.8"/>
<rect x="364.3" y="434.0" width="1.2" height="26.0" fill="#8a8ab0" opacity="0.8"/>
<rect x="364.7" y="461.9" width="1.2" height="39.1" fill="#d8b040" opacity="0.8"/>
<rect x="364.7" y="503.8" width="1.2" height="44.2" fill="#8a8a9a" opacity="0.8"/>
<rect x="367.1" y="433.2" width="1.2" height="26.9" fill="#6a5aa0" opacity="0.8"/>
<rect x="367.4" y="462.7" width="1.2" height="38.1" fill="#c0402a" opacity="0.8"/>
<rect x="366.4" y="505.3" width="1.2" height="42.7" fill="#8a2a2a" opacity="0.8"/>
<rect x="368.6" y="462.8" width="1.5" height="38.3" fill="#b05030" opacity="0.8"/>
<rect x="371.2" y="461.8" width="1.0" height="37.9" fill="#d8b040" opacity="0.8"/>
<rect x="374.2" y="504.6" width="1.2" height="43.4" fill="#5a5a8a" opacity="0.8"/>
<rect x="376.7" y="432.7" width="1.2" height="27.0" fill="#8a4a7a" opacity="0.8"/>
<rect x="376.1" y="463.0" width="1.2" height="38.4" fill="#b05030" opacity="0.8"/>
<rect x="379.3" y="427.0" width="1.0" height="29.4" fill="#c8d060" opacity="0.8"/>
<rect x="379.0" y="460.0" width="1.0" height="43.6" fill="#a04a4a" opacity="0.8"/>
<rect x="378.7" y="507.1" width="1.0" height="40.9" fill="#b04a3a" opacity="0.8"/>
<rect x="381.8" y="461.7" width="1.2" height="41.2" fill="#b05030" opacity="0.8"/>
<rect x="381.0" y="505.6" width="1.2" height="42.4" fill="#6a4a9a" opacity="0.8"/>
<rect x="383.6" y="504.9" width="1.2" height="43.1" fill="#8a2a2a" opacity="0.8"/>
<rect x="385.5" y="421.6" width="1.2" height="32.0" fill="#a8c8a0" opacity="0.8"/>
<rect x="388.0" y="419.9" width="1.5" height="35.1" fill="#a8c8a0" opacity="0.8"/>
<rect x="387.7" y="458.9" width="1.5" height="42.3" fill="#c0402a" opacity="0.8"/>
<rect x="390.5" y="417.6" width="1.0" height="36.0" fill="#9a70c0" opacity="0.8"/>
<rect x="390.8" y="455.7" width="1.0" height="45.3" fill="#d8b040" opacity="0.8"/>
<rect x="390.0" y="503.6" width="1.0" height="44.4" fill="#5a5a8a" opacity="0.8"/>
<rect x="392.5" y="503.2" width="1.2" height="44.8" fill="#6a4a9a" opacity="0.8"/>
<rect x="395.0" y="416.0" width="1.5" height="37.1" fill="#8a8ab0" opacity="0.8"/>
<rect x="394.8" y="504.0" width="1.5" height="44.0" fill="#d0c040" opacity="0.8"/>
<rect x="397.0" y="414.7" width="1.2" height="38.5" fill="#b04858" opacity="0.8"/>
<rect x="397.6" y="456.5" width="1.2" height="43.4" fill="#e8c850" opacity="0.8"/>
<rect x="396.8" y="505.7" width="1.2" height="42.3" fill="#5a5a8a" opacity="0.8"/>
<rect x="399.7" y="502.0" width="1.2" height="46.0" fill="#5a5a8a" opacity="0.8"/>
<rect x="402.3" y="413.9" width="1.2" height="37.6" fill="#6a5aa0" opacity="0.8"/>
<rect x="401.7" y="502.3" width="1.2" height="45.7" fill="#d0c040" opacity="0.8"/>
<rect x="405.2" y="506.0" width="1.0" height="42.0" fill="#d0c040" opacity="0.8"/>
<rect x="407.7" y="459.4" width="1.0" height="42.3" fill="#a04a4a" opacity="0.8"/>
<rect x="407.9" y="506.1" width="1.0" height="41.9" fill="#6a4a9a" opacity="0.8"/>
<rect x="409.9" y="414.7" width="1.2" height="39.1" fill="#8a8ab0" opacity="0.8"/>
<rect x="410.7" y="506.8" width="1.2" height="41.2" fill="#8a8a9a" opacity="0.8"/>
<rect x="412.1" y="457.6" width="1.5" height="46.3" fill="#f0b060" opacity="0.8"/>
<rect x="412.1" y="507.2" width="1.5" height="40.8" fill="#5a5a8a" opacity="0.8"/>
<rect x="415.7" y="417.7" width="1.5" height="33.8" fill="#b04858" opacity="0.8"/>
<rect x="415.6" y="453.7" width="1.5" height="53.4" fill="#f0b060" opacity="0.8"/>
<rect x="416.1" y="511.9" width="1.5" height="36.1" fill="#d0c040" opacity="0.8"/>
<rect x="417.2" y="456.7" width="1.2" height="52.4" fill="#b05030" opacity="0.8"/>
<rect x="417.8" y="513.1" width="1.2" height="34.9" fill="#c8d850" opacity="0.8"/>
<rect x="420.0" y="423.7" width="1.5" height="36.6" fill="#7a5fb0" opacity="0.8"/>
<rect x="419.3" y="467.9" width="1.5" height="43.8" fill="#c0402a" opacity="0.8"/>
<rect x="420.3" y="514.8" width="1.5" height="33.2" fill="#b04a3a" opacity="0.8"/>
<rect x="423.1" y="478.2" width="1.0" height="34.6" fill="#c0402a" opacity="0.8"/>
<rect x="423.2" y="518.6" width="1.0" height="29.4" fill="#b04a3a" opacity="0.8"/>
<rect x="425.0" y="438.5" width="1.0" height="38.9" fill="#8a4a7a" opacity="0.8"/>
<rect x="425.4" y="482.3" width="1.0" height="32.9" fill="#b05030" opacity="0.8"/>
<rect x="427.0" y="478.0" width="1.0" height="37.6" fill="#c86040" opacity="0.8"/>
<rect x="427.8" y="519.1" width="1.0" height="28.9" fill="#a0a060" opacity="0.8"/>
<rect x="429.2" y="443.0" width="1.0" height="29.6" fill="#8a8ab0" opacity="0.8"/>
<rect x="431.4" y="442.6" width="1.2" height="27.0" fill="#b04858" opacity="0.8"/>
<rect x="431.5" y="520.1" width="1.2" height="27.9" fill="#6a4a9a" opacity="0.8"/>
<rect x="433.2" y="437.9" width="1.0" height="28.0" fill="#a8c8a0" opacity="0.8"/>
<rect x="436.5" y="467.5" width="1.0" height="44.1" fill="#a04a4a" opacity="0.8"/>
<rect x="435.7" y="515.3" width="1.0" height="32.7" fill="#b04a3a" opacity="0.8"/>
<rect x="438.7" y="429.2" width="1.5" height="32.6" fill="#8a8ab0" opacity="0.8"/>
<rect x="438.8" y="467.3" width="1.5" height="44.3" fill="#a04a4a" opacity="0.8"/>
<rect x="441.6" y="428.0" width="1.0" height="36.4" fill="#6a5aa0" opacity="0.8"/>
<rect x="443.6" y="429.5" width="1.0" height="33.8" fill="#8a4a7a" opacity="0.8"/>
<rect x="443.2" y="513.8" width="1.0" height="34.2" fill="#8a8a9a" opacity="0.8"/>
<rect x="446.3" y="430.1" width="1.0" height="35.1" fill="#9a70c0" opacity="0.8"/>
<rect x="446.1" y="515.2" width="1.0" height="32.8" fill="#c8d850" opacity="0.8"/>
<rect x="447.9" y="470.9" width="1.0" height="43.6" fill="#e8c850" opacity="0.8"/>
<rect x="452.1" y="470.9" width="1.0" height="44.4" fill="#e8c850" opacity="0.8"/>
<rect x="453.8" y="441.4" width="1.0" height="27.5" fill="#7a5fb0" opacity="0.8"/>
<rect x="453.4" y="474.2" width="1.0" height="41.8" fill="#8a5a8a" opacity="0.8"/>
<rect x="454.6" y="518.4" width="1.0" height="29.6" fill="#8a9a40" opacity="0.8"/>
<rect x="458.6" y="439.4" width="1.2" height="32.5" fill="#6a5aa0" opacity="0.8"/>
<rect x="458.5" y="472.8" width="1.2" height="44.9" fill="#a04a4a" opacity="0.8"/>
<rect x="458.1" y="519.2" width="1.2" height="28.8" fill="#8a8a9a" opacity="0.8"/>
<rect x="461.5" y="473.8" width="1.2" height="42.9" fill="#f0b060" opacity="0.8"/>
<rect x="461.7" y="522.6" width="1.2" height="25.4" fill="#b04a3a" opacity="0.8"/>
<rect x="463.4" y="485.0" width="1.2" height="31.7" fill="#d8b040" opacity="0.8"/>
<rect x="463.4" y="523.0" width="1.2" height="25.0" fill="#8a2a2a" opacity="0.8"/>
<rect x="465.4" y="457.2" width="1.0" height="24.5" fill="#8a4a7a" opacity="0.8"/>
<rect x="464.9" y="489.1" width="1.0" height="27.7" fill="#8a5a8a" opacity="0.8"/>
<rect x="466.1" y="521.3" width="1.0" height="26.7" fill="#6a4a9a" opacity="0.8"/>
<rect x="467.7" y="458.6" width="1.0" height="24.5" fill="#6a5aa0" opacity="0.8"/>
<rect x="467.0" y="486.3" width="1.0" height="30.4" fill="#a04a4a" opacity="0.8"/>
<rect x="467.9" y="522.4" width="1.0" height="25.6" fill="#c8d850" opacity="0.8"/>
<rect x="470.5" y="450.0" width="1.0" height="27.1" fill="#c8d060" opacity="0.8"/>
<rect x="470.9" y="480.5" width="1.0" height="36.6" fill="#e8c850" opacity="0.8"/>
<rect x="470.9" y="520.9" width="1.0" height="27.1" fill="#8a9a40" opacity="0.8"/>
<rect x="473.1" y="443.1" width="1.2" height="30.3" fill="#9a70c0" opacity="0.8"/>
<rect x="472.9" y="476.7" width="1.2" height="40.1" fill="#8a5a8a" opacity="0.8"/>
<rect x="472.3" y="520.0" width="1.2" height="28.0" fill="#5a5a8a" opacity="0.8"/>
<rect x="475.4" y="518.9" width="1.2" height="29.1" fill="#6a4a9a" opacity="0.8"/>
<rect x="477.3" y="432.2" width="1.2" height="34.0" fill="#7a5fb0" opacity="0.8"/>
<rect x="477.0" y="468.1" width="1.2" height="47.4" fill="#d8b040" opacity="0.8"/>
<rect x="477.1" y="520.4" width="1.2" height="27.6" fill="#8a2a2a" opacity="0.8"/>
<rect x="481.2" y="435.0" width="1.2" height="28.7" fill="#8a8ab0" opacity="0.8"/>
<rect x="480.7" y="467.8" width="1.2" height="48.4" fill="#b05030" opacity="0.8"/>
<rect x="483.6" y="435.2" width="1.2" height="29.4" fill="#9a70c0" opacity="0.8"/>
<rect x="483.1" y="466.4" width="1.2" height="50.9" fill="#f0b060" opacity="0.8"/>
<rect x="483.8" y="522.8" width="1.2" height="25.2" fill="#a0a060" opacity="0.8"/>
<rect x="485.6" y="433.1" width="1.2" height="29.4" fill="#b04858" opacity="0.8"/>
<rect x="485.9" y="521.3" width="1.2" height="26.7" fill="#6a4a9a" opacity="0.8"/>
<rect x="488.4" y="467.7" width="1.5" height="50.2" fill="#a04a4a" opacity="0.8"/>
<rect x="487.6" y="522.5" width="1.5" height="25.5" fill="#8a2a2a" opacity="0.8"/>
<rect x="490.2" y="433.7" width="1.0" height="44.5" fill="#b04858" opacity="0.8"/>
<rect x="489.9" y="525.2" width="1.0" height="22.8" fill="#a0a060" opacity="0.8"/>
<rect x="491.7" y="500.3" width="1.2" height="27.9" fill="#c0402a" opacity="0.8"/>
<rect x="492.5" y="531.7" width="1.2" height="16.3" fill="#d0c040" opacity="0.8"/>
<rect x="494.6" y="471.0" width="1.5" height="27.5" fill="#6a5aa0" opacity="0.8"/>
<rect x="494.9" y="499.7" width="1.5" height="28.8" fill="#c86040" opacity="0.8"/>
<rect x="495.2" y="533.6" width="1.5" height="14.4" fill="#8a8a9a" opacity="0.8"/>
<rect x="497.0" y="504.2" width="1.2" height="24.8" fill="#c86040" opacity="0.8"/>
<rect x="496.8" y="533.8" width="1.2" height="14.2" fill="#8a2a2a" opacity="0.8"/>
<rect x="499.7" y="470.8" width="1.0" height="29.6" fill="#c8d060" opacity="0.8"/>
<rect x="499.8" y="504.9" width="1.0" height="26.6" fill="#e8c850" opacity="0.8"/>
<rect x="499.9" y="533.3" width="1.0" height="14.7" fill="#d0c040" opacity="0.8"/>
<rect x="501.6" y="505.7" width="1.2" height="25.7" fill="#c86040" opacity="0.8"/>
<rect x="502.9" y="533.1" width="1.2" height="14.9" fill="#5a5a8a" opacity="0.8"/>
<rect x="504.2" y="472.0" width="1.5" height="34.2" fill="#8a8ab0" opacity="0.8"/>
<rect x="504.9" y="507.2" width="1.5" height="22.2" fill="#b05030" opacity="0.8"/>
<rect x="504.3" y="533.2" width="1.5" height="14.8" fill="#a0a060" opacity="0.8"/>
<rect x="506.2" y="507.7" width="1.5" height="20.4" fill="#c0402a" opacity="0.8"/>
<rect x="507.4" y="534.5" width="1.5" height="13.5" fill="#c8d850" opacity="0.8"/>
<rect x="509.6" y="498.4" width="1.5" height="29.2" fill="#c86040" opacity="0.8"/>
<rect x="509.0" y="531.9" width="1.5" height="16.1" fill="#8a9a40" opacity="0.8"/>
<rect x="512.1" y="472.7" width="1.5" height="20.2" fill="#a8c8a0" opacity="0.8"/>
<rect x="511.5" y="495.7" width="1.5" height="30.5" fill="#c0402a" opacity="0.8"/>
<rect x="511.6" y="531.5" width="1.5" height="16.5" fill="#8a2a2a" opacity="0.8"/>
<rect x="514.7" y="473.0" width="1.0" height="20.8" fill="#8a4a7a" opacity="0.8"/>
<rect x="514.5" y="530.5" width="1.0" height="17.5" fill="#d0c040" opacity="0.8"/>
<rect x="517.2" y="529.5" width="1.0" height="18.5" fill="#c8d850" opacity="0.8"/>
<rect x="519.9" y="528.6" width="1.0" height="19.4" fill="#8a8a9a" opacity="0.8"/>
<rect x="521.9" y="484.0" width="1.0" height="22.0" fill="#b04858" opacity="0.8"/>
<rect x="522.6" y="507.9" width="1.0" height="19.0" fill="#c0402a" opacity="0.8"/>
<rect x="521.6" y="530.1" width="1.0" height="17.9" fill="#d0c040" opacity="0.8"/>
<rect x="524.7" y="511.0" width="1.2" height="16.1" fill="#8a5a8a" opacity="0.8"/>
<rect x="524.4" y="529.2" width="1.2" height="18.8" fill="#6a4a9a" opacity="0.8"/>
<rect x="526.8" y="499.0" width="1.2" height="13.1" fill="#7a5fb0" opacity="0.8"/>
<rect x="527.2" y="515.1" width="1.2" height="12.7" fill="#a04a4a" opacity="0.8"/>
<rect x="529.3" y="502.6" width="1.5" height="8.3" fill="#8a8ab0" opacity="0.8"/>
<rect x="530.0" y="530.7" width="1.5" height="17.3" fill="#6a4a9a" opacity="0.8"/>
<rect x="531.7" y="491.8" width="1.5" height="11.4" fill="#8a4a7a" opacity="0.8"/>
<rect x="531.0" y="506.2" width="1.5" height="19.8" fill="#c0402a" opacity="0.8"/>
<rect x="531.6" y="530.0" width="1.5" height="18.0" fill="#d0c040" opacity="0.8"/>
<rect x="534.2" y="507.1" width="1.2" height="19.2" fill="#c0402a" opacity="0.8"/>
<rect x="533.5" y="528.9" width="1.2" height="19.1" fill="#5a5a8a" opacity="0.8"/>
<rect x="536.7" y="484.5" width="1.5" height="13.8" fill="#9a70c0" opacity="0.8"/>
<rect x="537.3" y="501.0" width="1.5" height="23.4" fill="#e8c850" opacity="0.8"/>
<rect x="537.1" y="527.3" width="1.5" height="20.7" fill="#8a2a2a" opacity="0.8"/>
<rect x="540.1" y="498.1" width="1.0" height="26.0" fill="#b05030" opacity="0.8"/>
<rect x="542.0" y="478.9" width="1.0" height="12.8" fill="#c8d060" opacity="0.8"/>
<rect x="541.9" y="527.9" width="1.0" height="20.1" fill="#c8d850" opacity="0.8"/>
<rect x="543.9" y="476.1" width="1.0" height="12.0" fill="#7a5fb0" opacity="0.8"/>
<rect x="543.9" y="493.4" width="1.0" height="28.6" fill="#b05030" opacity="0.8"/>
<rect x="544.1" y="525.0" width="1.0" height="23.0" fill="#a0a060" opacity="0.8"/>
<rect x="545.6" y="490.1" width="1.0" height="31.4" fill="#e8c850" opacity="0.8"/>
<rect x="546.3" y="526.6" width="1.0" height="21.4" fill="#c8d850" opacity="0.8"/>
<rect x="548.4" y="463.4" width="1.5" height="20.4" fill="#8a4a7a" opacity="0.8"/>
<rect x="548.7" y="525.1" width="1.5" height="22.9" fill="#8a2a2a" opacity="0.8"/>
<rect x="550.5" y="456.3" width="1.2" height="23.6" fill="#c8d060" opacity="0.8"/>
<rect x="551.0" y="523.3" width="1.2" height="24.7" fill="#6a4a9a" opacity="0.8"/>
<rect x="552.3" y="454.7" width="1.5" height="23.1" fill="#8a8ab0" opacity="0.8"/>
<rect x="552.4" y="481.1" width="1.5" height="39.7" fill="#c86040" opacity="0.8"/>
<rect x="552.8" y="525.6" width="1.5" height="22.4" fill="#d0c040" opacity="0.8"/>
<rect x="554.9" y="482.8" width="1.5" height="38.2" fill="#d8b040" opacity="0.8"/>
<rect x="554.7" y="525.2" width="1.5" height="22.8" fill="#8a8a9a" opacity="0.8"/>
<rect x="556.6" y="448.3" width="1.2" height="27.5" fill="#b04858" opacity="0.8"/>
<rect x="556.5" y="479.1" width="1.2" height="41.7" fill="#e8c850" opacity="0.8"/>
<rect x="559.6" y="448.9" width="1.2" height="26.2" fill="#8a8ab0" opacity="0.8"/>
<rect x="560.3" y="480.3" width="1.2" height="40.2" fill="#8a5a8a" opacity="0.8"/>
<rect x="560.1" y="525.3" width="1.2" height="22.7" fill="#a0a060" opacity="0.8"/>
<rect x="562.4" y="480.5" width="1.2" height="38.9" fill="#e8c850" opacity="0.8"/>
<rect x="561.6" y="522.9" width="1.2" height="25.1" fill="#a0a060" opacity="0.8"/>
<rect x="564.6" y="453.8" width="1.2" height="20.9" fill="#8a8ab0" opacity="0.8"/>
<rect x="564.8" y="477.2" width="1.2" height="41.5" fill="#d8b040" opacity="0.8"/>
<rect x="565.3" y="522.2" width="1.2" height="25.8" fill="#a0a060" opacity="0.8"/>
<rect x="566.7" y="523.6" width="1.5" height="24.4" fill="#8a9a40" opacity="0.8"/>
<rect x="568.5" y="475.2" width="1.0" height="43.3" fill="#e8c850" opacity="0.8"/>
<rect x="569.5" y="521.4" width="1.0" height="26.6" fill="#c8d850" opacity="0.8"/>
<rect x="571.9" y="447.2" width="1.5" height="23.8" fill="#8a4a7a" opacity="0.8"/>
<rect x="572.5" y="477.3" width="1.5" height="39.0" fill="#e8c850" opacity="0.8"/>
<rect x="571.2" y="519.7" width="1.5" height="28.3" fill="#5a5a8a" opacity="0.8"/>
<rect x="574.5" y="441.8" width="1.0" height="29.4" fill="#c8d060" opacity="0.8"/>
<rect x="575.2" y="474.6" width="1.0" height="41.5" fill="#c86040" opacity="0.8"/>
<rect x="574.7" y="518.7" width="1.0" height="29.3" fill="#8a9a40" opacity="0.8"/>
<rect x="576.5" y="441.1" width="1.2" height="27.8" fill="#6a5aa0" opacity="0.8"/>
<rect x="575.8" y="473.0" width="1.2" height="41.6" fill="#8a5a8a" opacity="0.8"/>
<rect x="576.7" y="517.6" width="1.2" height="30.4" fill="#b04a3a" opacity="0.8"/>
<rect x="579.3" y="438.1" width="1.0" height="28.8" fill="#7a5fb0" opacity="0.8"/>
<rect x="578.6" y="471.6" width="1.0" height="43.8" fill="#8a5a8a" opacity="0.8"/>
<rect x="579.4" y="519.8" width="1.0" height="28.2" fill="#c8d850" opacity="0.8"/>
<rect x="581.4" y="438.4" width="1.2" height="28.3" fill="#9a70c0" opacity="0.8"/>
<rect x="582.2" y="471.7" width="1.2" height="44.0" fill="#8a5a8a" opacity="0.8"/>
<rect x="584.0" y="437.3" width="1.0" height="31.9" fill="#8a4a7a" opacity="0.8"/>
<rect x="584.6" y="521.0" width="1.0" height="27.0" fill="#d0c040" opacity="0.8"/>
<rect x="586.5" y="436.0" width="1.2" height="34.5" fill="#6a5aa0" opacity="0.8"/>
<rect x="587.2" y="474.4" width="1.2" height="41.8" fill="#f0b060" opacity="0.8"/>
<rect x="586.8" y="521.3" width="1.2" height="26.7" fill="#6a4a9a" opacity="0.8"/>
<rect x="589.1" y="472.7" width="1.5" height="44.3" fill="#f0b060" opacity="0.8"/>
<rect x="588.8" y="523.1" width="1.5" height="24.9" fill="#b04a3a" opacity="0.8"/>
<rect x="591.3" y="474.2" width="1.0" height="44.3" fill="#8a5a8a" opacity="0.8"/>
<rect x="591.5" y="522.4" width="1.0" height="25.6" fill="#8a9a40" opacity="0.8"/>
<rect x="593.8" y="442.6" width="1.5" height="29.4" fill="#a8c8a0" opacity="0.8"/>
<rect x="593.9" y="474.5" width="1.5" height="44.4" fill="#a04a4a" opacity="0.8"/>
<rect x="593.2" y="522.4" width="1.5" height="25.6" fill="#5a5a8a" opacity="0.8"/>
<rect x="596.6" y="475.9" width="1.0" height="43.0" fill="#d8b040" opacity="0.8"/>
<rect x="595.8" y="521.7" width="1.0" height="26.3" fill="#8a8a9a" opacity="0.8"/>
<rect x="598.5" y="449.8" width="1.0" height="25.0" fill="#b04858" opacity="0.8"/>
<rect x="598.9" y="525.3" width="1.0" height="22.7" fill="#6a4a9a" opacity="0.8"/>
<rect x="601.4" y="487.5" width="1.5" height="34.4" fill="#c0402a" opacity="0.8"/>
<rect x="600.9" y="523.4" width="1.5" height="24.6" fill="#6a4a9a" opacity="0.8"/>
<rect x="602.2" y="498.1" width="1.2" height="26.7" fill="#8a5a8a" opacity="0.8"/>
<rect x="605.8" y="498.6" width="1.2" height="28.7" fill="#f0b060" opacity="0.8"/>
<rect x="605.5" y="532.2" width="1.2" height="15.8" fill="#8a8a9a" opacity="0.8"/>
<rect x="608.4" y="446.8" width="1.5" height="31.2" fill="#b04858" opacity="0.8"/>
<rect x="607.8" y="511.3" width="1.5" height="36.7" fill="#8a8a9a" opacity="0.8"/>
<rect x="610.9" y="448.0" width="1.0" height="30.0" fill="#8a8ab0" opacity="0.8"/>
<rect x="610.5" y="511.9" width="1.0" height="36.1" fill="#a0a060" opacity="0.8"/>
<rect x="612.8" y="445.1" width="1.0" height="32.1" fill="#c8d060" opacity="0.8"/>
<rect x="613.1" y="484.1" width="1.0" height="25.7" fill="#c86040" opacity="0.8"/>
<rect x="612.9" y="512.8" width="1.0" height="35.2" fill="#a0a060" opacity="0.8"/>
<rect x="614.8" y="482.8" width="1.5" height="27.8" fill="#e8c850" opacity="0.8"/>
<rect x="617.8" y="479.0" width="1.0" height="29.4" fill="#e8c850" opacity="0.8"/>
<rect x="617.0" y="513.1" width="1.0" height="34.9" fill="#d0c040" opacity="0.8"/>
<rect x="619.6" y="447.4" width="1.5" height="29.6" fill="#c8d060" opacity="0.8"/>
<rect x="619.3" y="511.6" width="1.5" height="36.4" fill="#d0c040" opacity="0.8"/>
<rect x="622.4" y="446.5" width="1.0" height="27.6" fill="#8a4a7a" opacity="0.8"/>
<rect x="622.1" y="477.6" width="1.0" height="28.3" fill="#c0402a" opacity="0.8"/>
<rect x="621.6" y="509.1" width="1.0" height="38.9" fill="#8a9a40" opacity="0.8"/>
<rect x="624.4" y="441.0" width="1.5" height="31.7" fill="#9a70c0" opacity="0.8"/>
<rect x="625.0" y="478.3" width="1.5" height="25.2" fill="#a04a4a" opacity="0.8"/>
<rect x="624.0" y="506.1" width="1.5" height="41.9" fill="#8a2a2a" opacity="0.8"/>
<rect x="626.7" y="441.8" width="1.0" height="27.3" fill="#6a5aa0" opacity="0.8"/>
<rect x="627.3" y="475.9" width="1.0" height="26.2" fill="#f0b060" opacity="0.8"/>
<rect x="629.3" y="452.8" width="1.0" height="18.8" fill="#a8c8a0" opacity="0.8"/>
<rect x="628.9" y="477.7" width="1.0" height="26.8" fill="#e8c850" opacity="0.8"/>
<rect x="630.1" y="510.1" width="1.0" height="37.9" fill="#8a9a40" opacity="0.8"/>
<rect x="632.5" y="480.0" width="1.0" height="25.9" fill="#c86040" opacity="0.8"/>
<rect x="632.6" y="508.8" width="1.0" height="39.2" fill="#c8d850" opacity="0.8"/>
<rect x="634.8" y="467.1" width="1.2" height="9.2" fill="#6a5aa0" opacity="0.8"/>
<rect x="634.8" y="479.6" width="1.2" height="30.3" fill="#a04a4a" opacity="0.8"/>
<rect x="635.5" y="514.4" width="1.2" height="33.6" fill="#8a9a40" opacity="0.8"/>
<rect x="637.4" y="484.3" width="1.0" height="30.9" fill="#8a5a8a" opacity="0.8"/>
<rect x="638.5" y="519.1" width="1.2" height="28.9" fill="#b04a3a" opacity="0.8"/>
<rect x="641.4" y="475.0" width="1.0" height="6.5" fill="#8a8ab0" opacity="0.8"/>
<rect x="642.0" y="511.4" width="1.0" height="36.6" fill="#5a5a8a" opacity="0.8"/>
<rect x="644.2" y="445.1" width="1.2" height="27.0" fill="#9a70c0" opacity="0.8"/>
<rect x="643.9" y="473.0" width="1.2" height="29.2" fill="#c86040" opacity="0.8"/>
<rect x="643.5" y="508.1" width="1.2" height="39.9" fill="#c8d850" opacity="0.8"/>
<rect x="646.7" y="446.6" width="1.2" height="20.6" fill="#a8c8a0" opacity="0.8"/>
<rect x="649.6" y="444.1" width="1.0" height="23.1" fill="#9a70c0" opacity="0.8"/>
<rect x="649.6" y="470.9" width="1.0" height="29.9" fill="#a04a4a" opacity="0.8"/>
<rect x="650.3" y="505.8" width="1.0" height="42.2" fill="#8a8a9a" opacity="0.8"/>
<rect x="651.6" y="449.3" width="1.2" height="19.5" fill="#c8d060" opacity="0.8"/>
<rect x="651.9" y="470.6" width="1.2" height="31.0" fill="#e8c850" opacity="0.8"/>
<rect x="652.2" y="507.4" width="1.2" height="40.6" fill="#5a5a8a" opacity="0.8"/>
<rect x="654.3" y="460.3" width="1.0" height="18.9" fill="#8a8ab0" opacity="0.8"/>
<rect x="654.7" y="482.4" width="1.0" height="27.4" fill="#f0b060" opacity="0.8"/>
<rect x="657.2" y="491.7" width="1.5" height="20.4" fill="#c0402a" opacity="0.8"/>
<rect x="656.6" y="517.8" width="1.5" height="30.2" fill="#8a8a9a" opacity="0.8"/>
<rect x="659.5" y="489.0" width="1.5" height="24.7" fill="#c0402a" opacity="0.8"/>
<rect x="660.1" y="519.2" width="1.5" height="28.8" fill="#6a4a9a" opacity="0.8"/>
<rect x="661.3" y="469.1" width="1.5" height="16.9" fill="#a8c8a0" opacity="0.8"/>
<rect x="660.6" y="493.3" width="1.5" height="21.2" fill="#c86040" opacity="0.8"/>
<rect x="661.8" y="516.2" width="1.5" height="31.8" fill="#8a2a2a" opacity="0.8"/>
<rect x="663.1" y="466.8" width="1.0" height="22.3" fill="#9a70c0" opacity="0.8"/>
<rect x="663.8" y="494.2" width="1.0" height="21.5" fill="#e8c850" opacity="0.8"/>
<rect x="663.3" y="520.1" width="1.0" height="27.9" fill="#5a5a8a" opacity="0.8"/>
<rect x="665.5" y="469.5" width="1.5" height="20.4" fill="#c8d060" opacity="0.8"/>
<rect x="665.5" y="490.8" width="1.5" height="25.2" fill="#b05030" opacity="0.8"/>
<rect x="666.1" y="518.4" width="1.5" height="29.6" fill="#d0c040" opacity="0.8"/>
<rect x="668.0" y="472.6" width="1.0" height="16.2" fill="#c8d060" opacity="0.8"/>
<rect x="668.3" y="521.8" width="1.0" height="26.2" fill="#d0c040" opacity="0.8"/>
<rect x="669.8" y="492.9" width="1.0" height="25.6" fill="#8a5a8a" opacity="0.8"/>
<rect x="672.7" y="475.7" width="1.0" height="14.8" fill="#b04858" opacity="0.8"/>
<rect x="672.5" y="494.7" width="1.0" height="24.6" fill="#a04a4a" opacity="0.8"/>
<rect x="672.7" y="523.3" width="1.0" height="24.7" fill="#8a9a40" opacity="0.8"/>
<rect x="677.3" y="481.2" width="1.0" height="12.2" fill="#9a70c0" opacity="0.8"/>
<rect x="676.7" y="498.3" width="1.0" height="25.3" fill="#d8b040" opacity="0.8"/>
<rect x="678.0" y="526.5" width="1.0" height="21.5" fill="#8a8a9a" opacity="0.8"/>
<rect x="679.3" y="500.2" width="1.2" height="23.0" fill="#b05030" opacity="0.8"/>
<rect x="679.9" y="528.4" width="1.2" height="19.6" fill="#5a5a8a" opacity="0.8"/>
<rect x="681.6" y="530.3" width="1.0" height="17.7" fill="#d0c040" opacity="0.8"/>
<rect x="683.7" y="511.0" width="1.2" height="20.7" fill="#c86040" opacity="0.8"/>
<rect x="685.5" y="493.8" width="1.2" height="23.7" fill="#8a8ab0" opacity="0.8"/>
<rect x="685.3" y="521.0" width="1.2" height="13.0" fill="#8a5a8a" opacity="0.8"/>
<rect x="685.2" y="540.7" width="1.2" height="7.3" fill="#b04a3a" opacity="0.8"/>
<rect x="688.0" y="520.8" width="1.2" height="15.3" fill="#8a5a8a" opacity="0.8"/>
<rect x="687.7" y="537.4" width="1.2" height="10.6" fill="#5a5a8a" opacity="0.8"/>
<rect x="690.1" y="514.3" width="1.0" height="4.4" fill="#c8d060" opacity="0.8"/>
<rect x="689.7" y="524.1" width="1.0" height="12.0" fill="#b05030" opacity="0.8"/>
<rect x="693.9" y="541.4" width="1.5" height="6.6" fill="#d0c040" opacity="0.8"/>
<rect x="80.6" y="548.5" width="668.2" height="3.5" fill="#333"/>
</g>
<polygon points="763.4,15 778.9,30.8 771.5,30.8 771.5,169.6 756.1,169.6 756.1,30.8 747.8,30.8" fill="#acaaaa"/>
<polygon points="764.5,396.4 779.7,411.6 772.6,411.6 772.6,552 757.2,552 757.2,411.6 749.2,411.6" fill="#acaaaa"/>
<text font-family="Liberation Sans, sans-serif" font-size="15.9" fill="#111" stroke="#111" stroke-width="0.3" transform="translate(770.4 139.1) rotate(-90)">9784 Reads</text>
<text font-family="Liberation Sans, sans-serif" font-size="15.9" fill="#111" stroke="#111" stroke-width="0.3" transform="translate(770.8 521.3) rotate(-90)">3702 Reads</text>
</svg>
</body></html>
